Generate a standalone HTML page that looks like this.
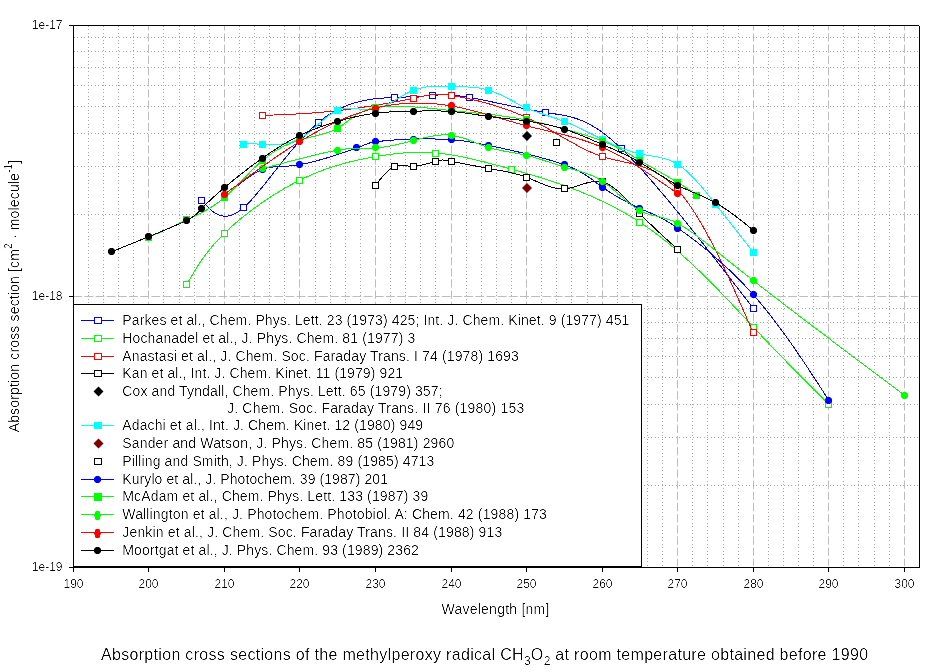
<!DOCTYPE html>
<html><head><meta charset="utf-8"><title>CH3O2 absorption cross sections</title>
<style>html,body{margin:0;padding:0;background:#fff;}body{width:944px;height:672px;overflow:hidden;}svg{display:block;}</style>
</head><body><svg width="944" height="672" viewBox="0 0 944 672" font-family="'Liberation Sans', Arial, sans-serif" fill="#000"><defs><filter id="crisp" x="0" y="0" width="1" height="1" color-interpolation-filters="sRGB"><feComponentTransfer><feFuncA type="table" tableValues="0 0 0.15 0.8 1"/></feComponentTransfer></filter></defs><g><line x1="88.5" y1="26" x2="88.5" y2="566" stroke="#a8a8a8" stroke-dasharray="1 2 1 3"/><line x1="103.5" y1="26" x2="103.5" y2="566" stroke="#a8a8a8" stroke-dasharray="1 2 1 3"/><line x1="118.5" y1="26" x2="118.5" y2="566" stroke="#a8a8a8" stroke-dasharray="1 2 1 3"/><line x1="133.5" y1="26" x2="133.5" y2="566" stroke="#a8a8a8" stroke-dasharray="1 2 1 3"/><line x1="148.5" y1="26" x2="148.5" y2="566" stroke="#bdbdbd" stroke-dasharray="8.3 2.88" stroke-dashoffset="3.8"/><line x1="163.5" y1="26" x2="163.5" y2="566" stroke="#a8a8a8" stroke-dasharray="1 2 1 3"/><line x1="179.5" y1="26" x2="179.5" y2="566" stroke="#a8a8a8" stroke-dasharray="1 2 1 3"/><line x1="194.5" y1="26" x2="194.5" y2="566" stroke="#a8a8a8" stroke-dasharray="1 2 1 3"/><line x1="209.5" y1="26" x2="209.5" y2="566" stroke="#a8a8a8" stroke-dasharray="1 2 1 3"/><line x1="224.5" y1="26" x2="224.5" y2="566" stroke="#bdbdbd" stroke-dasharray="8.3 2.88" stroke-dashoffset="3.8"/><line x1="239.5" y1="26" x2="239.5" y2="566" stroke="#a8a8a8" stroke-dasharray="1 2 1 3"/><line x1="254.5" y1="26" x2="254.5" y2="566" stroke="#a8a8a8" stroke-dasharray="1 2 1 3"/><line x1="269.5" y1="26" x2="269.5" y2="566" stroke="#a8a8a8" stroke-dasharray="1 2 1 3"/><line x1="284.5" y1="26" x2="284.5" y2="566" stroke="#a8a8a8" stroke-dasharray="1 2 1 3"/><line x1="299.5" y1="26" x2="299.5" y2="566" stroke="#bdbdbd" stroke-dasharray="8.3 2.88" stroke-dashoffset="3.8"/><line x1="315.5" y1="26" x2="315.5" y2="566" stroke="#a8a8a8" stroke-dasharray="1 2 1 3"/><line x1="330.5" y1="26" x2="330.5" y2="566" stroke="#a8a8a8" stroke-dasharray="1 2 1 3"/><line x1="345.5" y1="26" x2="345.5" y2="566" stroke="#a8a8a8" stroke-dasharray="1 2 1 3"/><line x1="360.5" y1="26" x2="360.5" y2="566" stroke="#a8a8a8" stroke-dasharray="1 2 1 3"/><line x1="375.5" y1="26" x2="375.5" y2="566" stroke="#bdbdbd" stroke-dasharray="8.3 2.88" stroke-dashoffset="3.8"/><line x1="390.5" y1="26" x2="390.5" y2="566" stroke="#a8a8a8" stroke-dasharray="1 2 1 3"/><line x1="405.5" y1="26" x2="405.5" y2="566" stroke="#a8a8a8" stroke-dasharray="1 2 1 3"/><line x1="420.5" y1="26" x2="420.5" y2="566" stroke="#a8a8a8" stroke-dasharray="1 2 1 3"/><line x1="435.5" y1="26" x2="435.5" y2="566" stroke="#a8a8a8" stroke-dasharray="1 2 1 3"/><line x1="451.5" y1="26" x2="451.5" y2="566" stroke="#bdbdbd" stroke-dasharray="8.3 2.88" stroke-dashoffset="3.8"/><line x1="466.5" y1="26" x2="466.5" y2="566" stroke="#a8a8a8" stroke-dasharray="1 2 1 3"/><line x1="481.5" y1="26" x2="481.5" y2="566" stroke="#a8a8a8" stroke-dasharray="1 2 1 3"/><line x1="496.5" y1="26" x2="496.5" y2="566" stroke="#a8a8a8" stroke-dasharray="1 2 1 3"/><line x1="511.5" y1="26" x2="511.5" y2="566" stroke="#a8a8a8" stroke-dasharray="1 2 1 3"/><line x1="526.5" y1="26" x2="526.5" y2="566" stroke="#bdbdbd" stroke-dasharray="8.3 2.88" stroke-dashoffset="3.8"/><line x1="541.5" y1="26" x2="541.5" y2="566" stroke="#a8a8a8" stroke-dasharray="1 2 1 3"/><line x1="556.5" y1="26" x2="556.5" y2="566" stroke="#a8a8a8" stroke-dasharray="1 2 1 3"/><line x1="571.5" y1="26" x2="571.5" y2="566" stroke="#a8a8a8" stroke-dasharray="1 2 1 3"/><line x1="587.5" y1="26" x2="587.5" y2="566" stroke="#a8a8a8" stroke-dasharray="1 2 1 3"/><line x1="602.5" y1="26" x2="602.5" y2="566" stroke="#bdbdbd" stroke-dasharray="8.3 2.88" stroke-dashoffset="3.8"/><line x1="617.5" y1="26" x2="617.5" y2="566" stroke="#a8a8a8" stroke-dasharray="1 2 1 3"/><line x1="632.5" y1="26" x2="632.5" y2="566" stroke="#a8a8a8" stroke-dasharray="1 2 1 3"/><line x1="647.5" y1="26" x2="647.5" y2="566" stroke="#a8a8a8" stroke-dasharray="1 2 1 3"/><line x1="662.5" y1="26" x2="662.5" y2="566" stroke="#a8a8a8" stroke-dasharray="1 2 1 3"/><line x1="677.5" y1="26" x2="677.5" y2="566" stroke="#bdbdbd" stroke-dasharray="8.3 2.88" stroke-dashoffset="3.8"/><line x1="692.5" y1="26" x2="692.5" y2="566" stroke="#a8a8a8" stroke-dasharray="1 2 1 3"/><line x1="707.5" y1="26" x2="707.5" y2="566" stroke="#a8a8a8" stroke-dasharray="1 2 1 3"/><line x1="723.5" y1="26" x2="723.5" y2="566" stroke="#a8a8a8" stroke-dasharray="1 2 1 3"/><line x1="738.5" y1="26" x2="738.5" y2="566" stroke="#a8a8a8" stroke-dasharray="1 2 1 3"/><line x1="753.5" y1="26" x2="753.5" y2="566" stroke="#bdbdbd" stroke-dasharray="8.3 2.88" stroke-dashoffset="3.8"/><line x1="768.5" y1="26" x2="768.5" y2="566" stroke="#a8a8a8" stroke-dasharray="1 2 1 3"/><line x1="783.5" y1="26" x2="783.5" y2="566" stroke="#a8a8a8" stroke-dasharray="1 2 1 3"/><line x1="798.5" y1="26" x2="798.5" y2="566" stroke="#a8a8a8" stroke-dasharray="1 2 1 3"/><line x1="813.5" y1="26" x2="813.5" y2="566" stroke="#a8a8a8" stroke-dasharray="1 2 1 3"/><line x1="828.5" y1="26" x2="828.5" y2="566" stroke="#bdbdbd" stroke-dasharray="8.3 2.88" stroke-dashoffset="3.8"/><line x1="843.5" y1="26" x2="843.5" y2="566" stroke="#a8a8a8" stroke-dasharray="1 2 1 3"/><line x1="858.5" y1="26" x2="858.5" y2="566" stroke="#a8a8a8" stroke-dasharray="1 2 1 3"/><line x1="874.5" y1="26" x2="874.5" y2="566" stroke="#a8a8a8" stroke-dasharray="1 2 1 3"/><line x1="889.5" y1="26" x2="889.5" y2="566" stroke="#a8a8a8" stroke-dasharray="1 2 1 3"/><line x1="904.5" y1="26" x2="904.5" y2="566" stroke="#bdbdbd" stroke-dasharray="8.3 2.88" stroke-dashoffset="3.8"/><line x1="919.5" y1="26" x2="919.5" y2="566" stroke="#a8a8a8" stroke-dasharray="1 2 1 3"/><line x1="74" y1="485.5" x2="918" y2="485.5" stroke="#a8a8a8" stroke-dasharray="1 2 1 3"/><line x1="74" y1="437.5" x2="918" y2="437.5" stroke="#a8a8a8" stroke-dasharray="1 2 1 3"/><line x1="74" y1="404.5" x2="918" y2="404.5" stroke="#a8a8a8" stroke-dasharray="1 2 1 3"/><line x1="74" y1="377.5" x2="918" y2="377.5" stroke="#a8a8a8" stroke-dasharray="1 2 1 3"/><line x1="74" y1="356.5" x2="918" y2="356.5" stroke="#a8a8a8" stroke-dasharray="1 2 1 3"/><line x1="74" y1="338.5" x2="918" y2="338.5" stroke="#a8a8a8" stroke-dasharray="1 2 1 3"/><line x1="74" y1="322.5" x2="918" y2="322.5" stroke="#a8a8a8" stroke-dasharray="1 2 1 3"/><line x1="74" y1="308.5" x2="918" y2="308.5" stroke="#a8a8a8" stroke-dasharray="1 2 1 3"/><line x1="74" y1="296.5" x2="918" y2="296.5" stroke="#bdbdbd" stroke-dasharray="8.9 2.27" stroke-dashoffset="0.8"/><line x1="74" y1="214.5" x2="918" y2="214.5" stroke="#a8a8a8" stroke-dasharray="1 2 1 3"/><line x1="74" y1="166.5" x2="918" y2="166.5" stroke="#a8a8a8" stroke-dasharray="1 2 1 3"/><line x1="74" y1="133.5" x2="918" y2="133.5" stroke="#a8a8a8" stroke-dasharray="1 2 1 3"/><line x1="74" y1="106.5" x2="918" y2="106.5" stroke="#a8a8a8" stroke-dasharray="1 2 1 3"/><line x1="74" y1="85.5" x2="918" y2="85.5" stroke="#a8a8a8" stroke-dasharray="1 2 1 3"/><line x1="74" y1="67.5" x2="918" y2="67.5" stroke="#a8a8a8" stroke-dasharray="1 2 1 3"/><line x1="74" y1="51.5" x2="918" y2="51.5" stroke="#a8a8a8" stroke-dasharray="1 2 1 3"/><line x1="74" y1="37.5" x2="918" y2="37.5" stroke="#a8a8a8" stroke-dasharray="1 2 1 3"/></g><g><path d="M201.76 200.70 L202.94 201.99 L204.12 203.26 L205.31 204.53 L206.51 205.76 L207.72 206.97 L208.93 208.14 L210.17 209.26 L211.41 210.32 L212.68 211.33 L213.97 212.26 L215.28 213.11 L216.61 213.87 L217.97 214.55 L219.37 215.11 L220.79 215.57 L222.25 215.91 L223.75 216.13 L225.28 216.21 L226.86 216.14 L228.48 215.93 L230.15 215.56 L231.87 215.03 L233.63 214.32 L235.45 213.43 L237.33 212.35 L239.26 211.07 L241.25 209.59 L243.31 207.90 L244.08 207.22 L244.86 206.51 L245.65 205.78 L246.45 205.01 L247.26 204.22 L248.07 203.40 L248.90 202.56 L249.73 201.69 L250.57 200.79 L251.41 199.88 L252.27 198.94 L253.13 197.98 L254.00 196.99 L254.88 195.99 L255.76 194.96 L256.65 193.92 L257.55 192.85 L258.46 191.77 L259.37 190.68 L260.29 189.56 L261.21 188.43 L262.14 187.28 L263.08 186.12 L264.02 184.95 L264.97 183.76 L265.93 182.56 L266.89 181.35 L267.86 180.13 L268.83 178.89 L269.81 177.65 L270.80 176.40 L271.78 175.14 L272.78 173.87 L273.78 172.60 L274.78 171.32 L275.79 170.03 L276.81 168.74 L277.83 167.45 L278.85 166.15 L279.88 164.85 L280.91 163.54 L281.94 162.24 L282.98 160.94 L284.03 159.63 L285.08 158.33 L286.13 157.03 L287.18 155.73 L288.24 154.43 L289.30 153.14 L290.37 151.85 L291.44 150.57 L292.51 149.29 L293.58 148.02 L294.66 146.76 L295.74 145.50 L296.82 144.26 L297.91 143.02 L299.00 141.79 L300.09 140.57 L301.18 139.37 L302.27 138.17 L303.37 136.99 L304.47 135.83 L305.57 134.67 L306.67 133.53 L307.77 132.41 L308.87 131.31 L309.98 130.22 L311.08 129.15 L312.19 128.09 L313.30 127.06 L314.41 126.04 L315.52 125.05 L316.63 124.08 L317.74 123.13 L318.85 122.20 L320.48 120.89 L322.10 119.62 L323.72 118.40 L325.35 117.23 L326.97 116.11 L328.59 115.03 L330.21 113.99 L331.83 113.00 L333.44 112.05 L335.05 111.14 L336.66 110.27 L338.26 109.44 L339.86 108.65 L341.45 107.90 L343.04 107.18 L344.63 106.50 L346.20 105.85 L347.77 105.23 L349.34 104.65 L350.89 104.10 L352.44 103.58 L353.98 103.10 L355.51 102.64 L357.04 102.20 L358.55 101.80 L360.05 101.42 L361.55 101.06 L363.03 100.73 L364.50 100.42 L365.97 100.14 L367.41 99.87 L368.85 99.63 L370.28 99.40 L371.69 99.20 L373.09 99.01 L374.47 98.83 L375.84 98.67 L377.19 98.53 L378.53 98.40 L379.86 98.28 L381.17 98.18 L382.46 98.08 L383.74 98.00 L384.99 97.92 L386.23 97.85 L387.46 97.79 L388.66 97.73 L389.85 97.68 L391.02 97.63 L392.16 97.58 L393.29 97.54 L394.40 97.50 L396.63 97.41 L398.78 97.33 L400.85 97.24 L402.83 97.16 L404.74 97.07 L406.58 96.98 L408.35 96.90 L410.05 96.82 L411.69 96.73 L413.27 96.65 L414.79 96.56 L416.26 96.48 L417.68 96.40 L419.06 96.31 L420.39 96.23 L421.69 96.15 L422.95 96.06 L424.18 95.98 L425.38 95.90 L426.55 95.81 L427.70 95.73 L428.84 95.65 L429.96 95.57 L431.07 95.48 L432.17 95.40 L433.27 95.32 L434.36 95.24 L435.46 95.16 L436.57 95.08 L437.70 95.02 L438.84 94.96 L440.00 94.91 L441.19 94.87 L442.42 94.85 L443.68 94.84 L444.97 94.84 L446.32 94.86 L447.71 94.91 L449.16 94.97 L450.67 95.05 L452.24 95.16 L453.87 95.30 L455.58 95.46 L457.37 95.65 L459.24 95.87 L461.19 96.13 L463.23 96.42 L465.37 96.74 L467.60 97.10 L469.94 97.50 L471.13 97.71 L472.34 97.93 L473.57 98.16 L474.83 98.39 L476.11 98.64 L477.42 98.89 L478.74 99.15 L480.09 99.42 L481.45 99.70 L482.83 99.98 L484.23 100.26 L485.65 100.56 L487.08 100.85 L488.53 101.16 L490.00 101.46 L491.47 101.77 L492.96 102.09 L494.47 102.41 L495.98 102.73 L497.50 103.05 L499.04 103.38 L500.58 103.71 L502.13 104.04 L503.69 104.37 L505.25 104.71 L506.82 105.04 L508.40 105.37 L509.97 105.71 L511.55 106.04 L513.14 106.37 L514.72 106.70 L516.31 107.03 L517.90 107.36 L519.48 107.68 L521.06 108.01 L522.64 108.33 L524.22 108.64 L525.79 108.95 L527.36 109.26 L528.92 109.57 L530.48 109.86 L532.03 110.16 L533.57 110.44 L535.10 110.73 L536.62 111.00 L538.13 111.27 L539.63 111.53 L541.11 111.79 L542.58 112.03 L544.04 112.27 L545.49 112.50 L546.81 112.71 L548.12 112.90 L549.42 113.10 L550.71 113.29 L551.99 113.48 L553.26 113.66 L554.53 113.85 L555.78 114.04 L557.03 114.23 L558.27 114.42 L559.50 114.62 L560.73 114.83 L561.96 115.04 L563.19 115.27 L564.41 115.50 L565.63 115.75 L566.85 116.01 L568.07 116.28 L569.29 116.57 L570.52 116.87 L571.75 117.20 L572.98 117.54 L574.21 117.91 L575.46 118.29 L576.70 118.70 L577.96 119.14 L579.22 119.60 L580.49 120.09 L581.77 120.60 L583.06 121.15 L584.36 121.73 L585.67 122.34 L587.00 122.98 L588.34 123.66 L589.69 124.37 L591.06 125.13 L592.45 125.92 L593.85 126.75 L595.27 127.62 L596.71 128.54 L598.16 129.50 L599.64 130.51 L601.14 131.56 L602.66 132.66 L604.20 133.81 L605.76 135.01 L607.35 136.26 L608.97 137.57 L610.61 138.93 L612.27 140.34 L613.97 141.81 L615.69 143.34 L617.44 144.94 L619.22 146.59 L621.03 148.30 L621.76 149.00 L622.50 149.71 L623.24 150.43 L623.98 151.16 L624.73 151.90 L625.49 152.65 L626.25 153.41 L627.01 154.18 L627.78 154.96 L628.56 155.75 L629.34 156.54 L630.12 157.35 L630.91 158.17 L631.70 158.99 L632.50 159.83 L633.30 160.67 L634.10 161.52 L634.91 162.38 L635.73 163.25 L636.55 164.13 L637.37 165.02 L638.20 165.91 L639.03 166.82 L639.86 167.73 L640.70 168.65 L641.55 169.58 L642.39 170.51 L643.25 171.46 L644.10 172.41 L644.96 173.37 L645.83 174.34 L646.69 175.32 L647.56 176.30 L648.44 177.30 L649.32 178.30 L650.20 179.30 L651.09 180.32 L651.98 181.34 L652.87 182.37 L653.77 183.41 L654.67 184.45 L655.57 185.50 L656.48 186.56 L657.39 187.63 L658.31 188.70 L659.23 189.78 L660.15 190.86 L661.07 191.95 L662.00 193.05 L662.93 194.16 L663.86 195.27 L664.80 196.39 L665.74 197.51 L666.69 198.64 L667.63 199.78 L668.58 200.92 L669.54 202.07 L670.49 203.23 L671.45 204.39 L672.41 205.55 L673.38 206.72 L674.34 207.90 L675.31 209.08 L676.28 210.27 L677.26 211.47 L678.24 212.67 L679.22 213.87 L680.20 215.08 L681.19 216.30 L682.17 217.52 L683.16 218.74 L684.16 219.97 L685.15 221.20 L686.15 222.44 L687.15 223.69 L688.15 224.94 L689.16 226.19 L690.16 227.45 L691.17 228.71 L692.18 229.98 L693.20 231.25 L694.21 232.52 L695.23 233.80 L696.25 235.08 L697.27 236.37 L698.29 237.66 L699.32 238.95 L700.34 240.25 L701.37 241.55 L702.40 242.86 L703.43 244.17 L704.47 245.48 L705.50 246.80 L706.54 248.12 L707.58 249.44 L708.62 250.76 L709.66 252.09 L710.70 253.42 L711.75 254.76 L712.80 256.10 L713.84 257.44 L714.89 258.78 L715.94 260.12 L716.99 261.47 L718.05 262.82 L719.10 264.17 L720.15 265.53 L721.21 266.89 L722.27 268.25 L723.33 269.61 L724.38 270.97 L725.45 272.34 L726.51 273.71 L727.57 275.07 L728.63 276.45 L729.70 277.82 L730.76 279.19 L731.82 280.57 L732.89 281.95 L733.96 283.33 L735.02 284.71 L736.09 286.09 L737.16 287.47 L738.23 288.85 L739.30 290.24 L740.37 291.62 L741.44 293.01 L742.51 294.40 L743.58 295.79 L744.65 297.18 L745.73 298.56 L746.80 299.95 L747.87 301.34 L748.94 302.74 L750.02 304.13 L751.09 305.52 L752.16 306.91 L753.24 308.30" fill="none" stroke="#0000ff" stroke-width="1" shape-rendering="crispEdges"/><rect x="198.5" y="197.5" width="6" height="6" fill="#fff" stroke="#0000ff" stroke-width="1"/><rect x="240.5" y="204.5" width="6" height="6" fill="#fff" stroke="#0000ff" stroke-width="1"/><rect x="315.5" y="119.5" width="6" height="6" fill="#fff" stroke="#0000ff" stroke-width="1"/><rect x="391.5" y="94.5" width="6" height="6" fill="#fff" stroke="#0000ff" stroke-width="1"/><rect x="429.5" y="92.5" width="6" height="6" fill="#fff" stroke="#0000ff" stroke-width="1"/><rect x="466.5" y="94.5" width="6" height="6" fill="#fff" stroke="#0000ff" stroke-width="1"/><rect x="542.5" y="109.5" width="6" height="6" fill="#fff" stroke="#0000ff" stroke-width="1"/><rect x="618.5" y="145.5" width="6" height="6" fill="#fff" stroke="#0000ff" stroke-width="1"/><rect x="750.5" y="305.5" width="6" height="6" fill="#fff" stroke="#0000ff" stroke-width="1"/></g><g><path d="M186.65 284.70 L187.31 283.53 L187.98 282.36 L188.65 281.19 L189.32 280.02 L189.99 278.85 L190.67 277.68 L191.35 276.51 L192.04 275.33 L192.73 274.16 L193.43 272.98 L194.14 271.80 L194.86 270.62 L195.59 269.44 L196.33 268.25 L197.08 267.06 L197.84 265.87 L198.61 264.68 L199.40 263.48 L200.20 262.28 L201.02 261.07 L201.85 259.86 L202.70 258.65 L203.56 257.44 L204.45 256.22 L205.35 254.99 L206.28 253.76 L207.22 252.53 L208.19 251.29 L209.18 250.04 L210.19 248.79 L211.23 247.54 L212.29 246.27 L213.37 245.01 L214.48 243.73 L215.62 242.45 L216.79 241.17 L217.98 239.87 L219.21 238.57 L220.46 237.27 L221.75 235.95 L223.07 234.63 L224.42 233.30 L225.37 232.38 L226.33 231.46 L227.31 230.53 L228.31 229.60 L229.32 228.67 L230.34 227.73 L231.38 226.80 L232.43 225.86 L233.50 224.92 L234.58 223.98 L235.67 223.03 L236.77 222.09 L237.89 221.14 L239.02 220.20 L240.16 219.25 L241.31 218.31 L242.47 217.36 L243.64 216.42 L244.82 215.48 L246.02 214.54 L247.22 213.60 L248.43 212.66 L249.66 211.72 L250.89 210.79 L252.13 209.85 L253.37 208.92 L254.63 208.00 L255.89 207.07 L257.16 206.15 L258.44 205.24 L259.73 204.33 L261.02 203.42 L262.32 202.52 L263.62 201.62 L264.93 200.72 L266.24 199.84 L267.56 198.95 L268.89 198.08 L270.22 197.21 L271.55 196.34 L272.89 195.48 L274.23 194.63 L275.57 193.79 L276.92 192.95 L278.27 192.12 L279.62 191.30 L280.97 190.49 L282.33 189.68 L283.68 188.89 L285.04 188.10 L286.40 187.32 L287.76 186.55 L289.12 185.79 L290.48 185.05 L291.84 184.31 L293.19 183.58 L294.55 182.86 L295.91 182.15 L297.26 181.46 L298.61 180.77 L299.96 180.10 L301.55 179.33 L303.12 178.57 L304.70 177.83 L306.27 177.10 L307.83 176.39 L309.40 175.70 L310.95 175.02 L312.51 174.35 L314.06 173.70 L315.61 173.07 L317.15 172.44 L318.68 171.84 L320.22 171.24 L321.75 170.66 L323.27 170.10 L324.79 169.55 L326.30 169.01 L327.81 168.48 L329.31 167.96 L330.81 167.46 L332.31 166.97 L333.79 166.49 L335.28 166.03 L336.75 165.57 L338.23 165.13 L339.69 164.69 L341.15 164.27 L342.61 163.86 L344.06 163.46 L345.50 163.07 L346.93 162.69 L348.36 162.32 L349.79 161.95 L351.20 161.60 L352.61 161.26 L354.02 160.92 L355.42 160.60 L356.81 160.28 L358.19 159.97 L359.57 159.67 L360.94 159.38 L362.30 159.09 L363.65 158.81 L365.00 158.54 L366.34 158.28 L367.68 158.02 L369.00 157.77 L370.32 157.52 L371.63 157.28 L372.93 157.05 L374.22 156.82 L375.51 156.60 L377.17 156.32 L378.82 156.05 L380.45 155.78 L382.07 155.53 L383.68 155.28 L385.28 155.05 L386.86 154.82 L388.44 154.60 L390.00 154.39 L391.56 154.20 L393.11 154.01 L394.64 153.83 L396.17 153.66 L397.70 153.50 L399.21 153.35 L400.72 153.21 L402.22 153.07 L403.71 152.95 L405.20 152.84 L406.68 152.74 L408.16 152.65 L409.64 152.57 L411.11 152.50 L412.57 152.45 L414.04 152.40 L415.50 152.36 L416.96 152.33 L418.42 152.32 L419.87 152.31 L421.33 152.32 L422.78 152.34 L424.24 152.36 L425.70 152.40 L427.15 152.45 L428.61 152.52 L430.07 152.59 L431.54 152.68 L433.00 152.77 L434.47 152.88 L435.95 153.00 L437.10 153.10 L438.27 153.21 L439.43 153.33 L440.60 153.45 L441.78 153.59 L442.96 153.73 L444.14 153.87 L445.34 154.03 L446.54 154.19 L447.75 154.36 L448.97 154.54 L450.19 154.73 L451.43 154.93 L452.67 155.13 L453.93 155.34 L455.20 155.56 L456.48 155.79 L457.78 156.03 L459.08 156.28 L460.40 156.53 L461.74 156.80 L463.09 157.07 L464.46 157.35 L465.84 157.64 L467.24 157.94 L468.66 158.25 L470.09 158.57 L471.54 158.90 L473.02 159.23 L474.51 159.58 L476.02 159.94 L477.56 160.30 L479.11 160.68 L480.69 161.07 L482.29 161.46 L483.92 161.87 L485.56 162.28 L487.24 162.71 L488.93 163.14 L490.66 163.59 L492.41 164.05 L494.19 164.51 L495.99 164.99 L497.82 165.48 L499.68 165.98 L501.58 166.49 L503.50 167.01 L505.45 167.54 L507.43 168.08 L509.44 168.64 L511.49 169.20 L512.64 169.52 L513.80 169.84 L514.97 170.16 L516.14 170.49 L517.33 170.82 L518.53 171.16 L519.74 171.50 L520.95 171.84 L522.17 172.19 L523.41 172.54 L524.65 172.90 L525.90 173.26 L527.16 173.63 L528.42 174.00 L529.70 174.37 L530.98 174.75 L532.27 175.13 L533.57 175.52 L534.87 175.91 L536.18 176.31 L537.50 176.71 L538.83 177.12 L540.16 177.53 L541.50 177.94 L542.85 178.37 L544.20 178.79 L545.56 179.23 L546.92 179.67 L548.29 180.11 L549.67 180.56 L551.05 181.01 L552.44 181.47 L553.83 181.94 L555.23 182.41 L556.63 182.89 L558.04 183.38 L559.45 183.87 L560.87 184.36 L562.29 184.86 L563.72 185.37 L565.14 185.89 L566.58 186.41 L568.01 186.94 L569.46 187.47 L570.90 188.02 L572.35 188.56 L573.80 189.12 L575.25 189.68 L576.71 190.25 L578.17 190.82 L579.63 191.41 L581.09 192.00 L582.56 192.59 L584.03 193.20 L585.50 193.81 L586.97 194.43 L588.45 195.06 L589.92 195.69 L591.40 196.33 L592.88 196.98 L594.36 197.64 L595.84 198.31 L597.32 198.98 L598.80 199.66 L600.28 200.35 L601.76 201.05 L603.25 201.76 L604.73 202.47 L606.21 203.19 L607.69 203.92 L609.17 204.66 L610.66 205.41 L612.14 206.17 L613.62 206.93 L615.09 207.71 L616.57 208.49 L618.05 209.29 L619.52 210.09 L620.99 210.90 L622.46 211.72 L623.93 212.55 L625.40 213.39 L626.86 214.23 L628.33 215.09 L629.79 215.96 L631.24 216.83 L632.70 217.72 L634.15 218.62 L635.59 219.52 L637.04 220.44 L638.48 221.36 L639.92 222.30 L641.21 223.15 L642.50 224.01 L643.79 224.88 L645.07 225.76 L646.35 226.64 L647.63 227.54 L648.90 228.44 L650.18 229.34 L651.44 230.26 L652.71 231.18 L653.97 232.10 L655.23 233.04 L656.48 233.98 L657.74 234.93 L658.98 235.88 L660.23 236.84 L661.47 237.81 L662.71 238.78 L663.95 239.75 L665.18 240.74 L666.41 241.73 L667.63 242.72 L668.85 243.72 L670.07 244.72 L671.29 245.73 L672.50 246.74 L673.71 247.76 L674.91 248.78 L676.11 249.81 L677.31 250.84 L678.50 251.88 L679.69 252.92 L680.88 253.96 L682.06 255.01 L683.24 256.06 L684.42 257.11 L685.59 258.17 L686.76 259.23 L687.92 260.29 L689.09 261.35 L690.24 262.42 L691.40 263.49 L692.55 264.56 L693.69 265.64 L694.84 266.72 L695.98 267.80 L697.11 268.88 L698.24 269.96 L699.37 271.04 L700.49 272.13 L701.61 273.21 L702.73 274.30 L703.84 275.39 L704.95 276.48 L706.05 277.57 L707.15 278.66 L708.25 279.75 L709.34 280.84 L710.43 281.94 L711.51 283.03 L712.59 284.12 L713.67 285.21 L714.74 286.30 L715.81 287.39 L716.88 288.48 L717.94 289.57 L718.99 290.66 L720.04 291.74 L721.09 292.83 L722.13 293.91 L723.17 294.99 L724.21 296.07 L725.24 297.15 L726.27 298.23 L727.29 299.30 L728.31 300.37 L729.32 301.44 L730.33 302.51 L731.34 303.58 L732.34 304.64 L733.33 305.70 L734.33 306.75 L735.31 307.81 L736.30 308.85 L737.28 309.90 L738.25 310.94 L739.22 311.98 L740.19 313.01 L741.15 314.04 L742.11 315.07 L743.06 316.09 L744.01 317.11 L744.95 318.12 L745.89 319.13 L746.82 320.13 L747.75 321.13 L748.68 322.12 L749.60 323.11 L750.51 324.09 L751.43 325.07 L752.33 326.04 L753.24 327.00 L754.52 328.37 L755.80 329.74 L757.07 331.09 L758.33 332.43 L759.58 333.75 L760.82 335.07 L762.05 336.37 L763.28 337.66 L764.49 338.95 L765.70 340.22 L766.90 341.48 L768.09 342.72 L769.27 343.96 L770.45 345.19 L771.61 346.41 L772.77 347.62 L773.92 348.82 L775.07 350.01 L776.21 351.19 L777.34 352.36 L778.46 353.52 L779.58 354.68 L780.69 355.82 L781.79 356.96 L782.89 358.09 L783.98 359.21 L785.06 360.32 L786.14 361.42 L787.21 362.52 L788.28 363.61 L789.34 364.69 L790.40 365.77 L791.45 366.84 L792.49 367.90 L793.53 368.95 L794.57 370.00 L795.60 371.05 L796.62 372.08 L797.65 373.11 L798.66 374.14 L799.68 375.16 L800.68 376.17 L801.69 377.18 L802.69 378.19 L803.69 379.19 L804.68 380.18 L805.67 381.17 L806.66 382.16 L807.64 383.14 L808.63 384.12 L809.60 385.10 L810.58 386.07 L811.55 387.04 L812.52 388.00 L813.49 388.97 L814.46 389.93 L815.42 390.88 L816.38 391.84 L817.34 392.79 L818.30 393.74 L819.26 394.69 L820.22 395.63 L821.17 396.58 L822.12 397.52 L823.08 398.46 L824.03 399.40 L824.98 400.34 L825.93 401.28 L826.88 402.22 L827.83 403.16 L828.78 404.10" fill="none" stroke="#00ff00" stroke-width="1" shape-rendering="crispEdges"/><rect x="183.5" y="281.5" width="6" height="6" fill="#fff" stroke="#00ff00" stroke-width="1"/><rect x="221.5" y="230.5" width="6" height="6" fill="#fff" stroke="#00ff00" stroke-width="1"/><rect x="296.5" y="177.5" width="6" height="6" fill="#fff" stroke="#00ff00" stroke-width="1"/><rect x="372.5" y="153.5" width="6" height="6" fill="#fff" stroke="#00ff00" stroke-width="1"/><rect x="432.5" y="150.5" width="6" height="6" fill="#fff" stroke="#00ff00" stroke-width="1"/><rect x="508.5" y="166.5" width="6" height="6" fill="#fff" stroke="#00ff00" stroke-width="1"/><rect x="636.5" y="219.5" width="6" height="6" fill="#fff" stroke="#00ff00" stroke-width="1"/><rect x="750.5" y="324.5" width="6" height="6" fill="#fff" stroke="#00ff00" stroke-width="1"/><rect x="825.5" y="401.5" width="6" height="6" fill="#fff" stroke="#00ff00" stroke-width="1"/></g><g><path d="M262.19 115.40 L263.63 115.35 L265.08 115.30 L266.52 115.25 L267.96 115.20 L269.41 115.15 L270.85 115.10 L272.30 115.05 L273.74 115.00 L275.19 114.94 L276.64 114.89 L278.09 114.83 L279.55 114.78 L281.00 114.72 L282.46 114.66 L283.92 114.60 L285.38 114.53 L286.84 114.47 L288.31 114.40 L289.78 114.33 L291.26 114.26 L292.73 114.19 L294.21 114.12 L295.70 114.04 L297.18 113.96 L298.68 113.87 L300.17 113.79 L301.67 113.70 L303.18 113.61 L304.69 113.51 L306.20 113.42 L307.72 113.31 L309.24 113.21 L310.77 113.10 L312.31 112.99 L313.85 112.87 L315.39 112.75 L316.94 112.63 L318.50 112.50 L320.07 112.37 L321.64 112.23 L323.22 112.09 L324.80 111.94 L326.39 111.79 L327.99 111.64 L329.60 111.48 L331.21 111.31 L332.83 111.14 L334.46 110.97 L336.09 110.79 L337.74 110.60 L339.36 110.41 L340.98 110.22 L342.62 110.02 L344.26 109.82 L345.90 109.61 L347.55 109.40 L349.20 109.18 L350.85 108.96 L352.51 108.73 L354.17 108.51 L355.82 108.27 L357.48 108.04 L359.13 107.80 L360.78 107.56 L362.43 107.32 L364.08 107.07 L365.72 106.82 L367.36 106.57 L368.99 106.32 L370.61 106.06 L372.22 105.81 L373.83 105.55 L375.43 105.29 L377.02 105.03 L378.59 104.77 L380.16 104.51 L381.71 104.25 L383.25 103.98 L384.78 103.72 L386.29 103.46 L387.79 103.20 L389.27 102.93 L390.73 102.67 L392.18 102.41 L393.60 102.15 L395.01 101.90 L396.40 101.64 L397.77 101.38 L399.11 101.13 L400.43 100.88 L401.73 100.63 L403.01 100.38 L404.26 100.14 L405.48 99.90 L406.68 99.66 L407.86 99.42 L409.00 99.19 L410.12 98.96 L411.20 98.74 L412.26 98.52 L413.28 98.30 L415.28 97.87 L417.15 97.46 L418.91 97.07 L420.58 96.70 L422.15 96.35 L423.64 96.02 L425.07 95.72 L426.43 95.44 L427.75 95.18 L429.03 94.96 L430.29 94.76 L431.53 94.58 L432.77 94.44 L434.01 94.33 L435.27 94.25 L436.55 94.20 L437.87 94.19 L439.24 94.21 L440.67 94.27 L442.17 94.36 L443.74 94.49 L445.41 94.66 L447.18 94.86 L449.05 95.11 L451.06 95.40 L452.06 95.55 L453.10 95.72 L454.17 95.89 L455.26 96.07 L456.39 96.27 L457.54 96.47 L458.71 96.69 L459.91 96.91 L461.14 97.14 L462.39 97.39 L463.66 97.64 L464.96 97.91 L466.28 98.18 L467.62 98.47 L468.97 98.77 L470.35 99.07 L471.75 99.39 L473.16 99.72 L474.60 100.06 L476.04 100.41 L477.51 100.77 L478.99 101.14 L480.48 101.52 L481.99 101.91 L483.51 102.32 L485.04 102.73 L486.58 103.16 L488.13 103.60 L489.69 104.05 L491.27 104.51 L492.85 104.98 L494.43 105.46 L496.03 105.96 L497.63 106.46 L499.23 106.98 L500.84 107.51 L502.46 108.05 L504.07 108.60 L505.69 109.17 L507.31 109.74 L508.93 110.33 L510.55 110.93 L512.17 111.54 L513.79 112.17 L515.41 112.80 L517.02 113.45 L518.63 114.11 L520.24 114.79 L521.84 115.47 L523.43 116.17 L525.02 116.88 L526.60 117.60 L528.06 118.28 L529.51 118.97 L530.96 119.67 L532.40 120.39 L533.83 121.10 L535.26 121.83 L536.68 122.57 L538.10 123.31 L539.50 124.06 L540.91 124.81 L542.31 125.57 L543.70 126.34 L545.09 127.10 L546.47 127.88 L547.85 128.65 L549.22 129.43 L550.59 130.21 L551.95 130.99 L553.31 131.77 L554.67 132.56 L556.02 133.34 L557.37 134.12 L558.71 134.91 L560.05 135.69 L561.39 136.46 L562.73 137.24 L564.06 138.01 L565.39 138.78 L566.72 139.54 L568.04 140.30 L569.36 141.05 L570.68 141.80 L572.00 142.54 L573.32 143.27 L574.63 144.00 L575.94 144.71 L577.26 145.42 L578.57 146.12 L579.88 146.81 L581.19 147.49 L582.49 148.16 L583.80 148.81 L585.11 149.46 L586.42 150.09 L587.72 150.71 L589.03 151.31 L590.34 151.91 L591.65 152.48 L592.95 153.04 L594.26 153.59 L595.57 154.12 L596.89 154.63 L598.20 155.13 L599.51 155.60 L600.83 156.06 L602.15 156.50 L603.49 156.93 L604.83 157.34 L606.18 157.73 L607.53 158.10 L608.88 158.46 L610.23 158.81 L611.59 159.15 L612.94 159.47 L614.30 159.79 L615.66 160.10 L617.02 160.41 L618.38 160.71 L619.74 161.00 L621.11 161.30 L622.47 161.59 L623.84 161.89 L625.21 162.19 L626.58 162.49 L627.95 162.80 L629.32 163.12 L630.69 163.45 L632.07 163.78 L633.44 164.13 L634.82 164.49 L636.19 164.86 L637.57 165.25 L638.95 165.66 L640.33 166.09 L641.71 166.54 L643.09 167.00 L644.47 167.50 L645.85 168.01 L647.24 168.55 L648.62 169.12 L650.00 169.72 L651.38 170.35 L652.77 171.01 L654.15 171.71 L655.54 172.44 L656.92 173.20 L658.31 174.00 L659.69 174.85 L661.08 175.73 L662.46 176.65 L663.85 177.62 L665.23 178.63 L666.62 179.69 L668.00 180.80 L669.39 181.95 L670.77 183.16 L672.16 184.42 L673.54 185.73 L674.92 187.10 L676.31 188.52 L677.69 190.00 L678.40 190.78 L679.11 191.58 L679.82 192.40 L680.53 193.23 L681.24 194.08 L681.95 194.94 L682.66 195.81 L683.37 196.70 L684.08 197.61 L684.79 198.52 L685.50 199.46 L686.21 200.40 L686.92 201.36 L687.63 202.34 L688.34 203.33 L689.04 204.33 L689.75 205.34 L690.46 206.37 L691.17 207.41 L691.88 208.47 L692.59 209.54 L693.29 210.62 L694.00 211.71 L694.71 212.81 L695.42 213.93 L696.13 215.06 L696.83 216.20 L697.54 217.35 L698.25 218.51 L698.96 219.69 L699.66 220.87 L700.37 222.07 L701.08 223.28 L701.78 224.50 L702.49 225.73 L703.20 226.97 L703.91 228.22 L704.61 229.48 L705.32 230.75 L706.02 232.04 L706.73 233.33 L707.44 234.63 L708.14 235.94 L708.85 237.26 L709.56 238.59 L710.26 239.92 L710.97 241.27 L711.67 242.63 L712.38 243.99 L713.09 245.36 L713.79 246.75 L714.50 248.14 L715.20 249.53 L715.91 250.94 L716.61 252.35 L717.32 253.77 L718.02 255.20 L718.73 256.64 L719.43 258.08 L720.14 259.53 L720.84 260.98 L721.55 262.45 L722.25 263.92 L722.96 265.39 L723.66 266.88 L724.37 268.37 L725.07 269.86 L725.78 271.36 L726.48 272.87 L727.19 274.38 L727.89 275.90 L728.60 277.42 L729.30 278.95 L730.00 280.48 L730.71 282.02 L731.41 283.56 L732.12 285.11 L732.82 286.66 L733.53 288.21 L734.23 289.77 L734.93 291.34 L735.64 292.91 L736.34 294.48 L737.05 296.05 L737.75 297.63 L738.45 299.21 L739.16 300.79 L739.86 302.38 L740.57 303.97 L741.27 305.56 L741.97 307.16 L742.68 308.76 L743.38 310.36 L744.09 311.96 L744.79 313.56 L745.49 315.17 L746.20 316.77 L746.90 318.38 L747.61 319.99 L748.31 321.60 L749.01 323.22 L749.72 324.83 L750.42 326.44 L751.12 328.06 L751.83 329.67 L752.53 331.28 L753.24 332.90" fill="none" stroke="#ff0000" stroke-width="1" shape-rendering="crispEdges"/><rect x="259.5" y="112.5" width="6" height="6" fill="#fff" stroke="#ff0000" stroke-width="1"/><rect x="334.5" y="107.5" width="6" height="6" fill="#fff" stroke="#ff0000" stroke-width="1"/><rect x="410.5" y="95.5" width="6" height="6" fill="#fff" stroke="#ff0000" stroke-width="1"/><rect x="448.5" y="92.5" width="6" height="6" fill="#fff" stroke="#ff0000" stroke-width="1"/><rect x="523.5" y="114.5" width="6" height="6" fill="#fff" stroke="#ff0000" stroke-width="1"/><rect x="599.5" y="153.5" width="6" height="6" fill="#fff" stroke="#ff0000" stroke-width="1"/><rect x="674.5" y="186.5" width="6" height="6" fill="#fff" stroke="#ff0000" stroke-width="1"/><rect x="750.5" y="329.5" width="6" height="6" fill="#fff" stroke="#ff0000" stroke-width="1"/></g><g><path d="M375.51 185.30 L376.65 183.86 L377.79 182.42 L378.93 181.00 L380.07 179.60 L381.21 178.23 L382.34 176.89 L383.47 175.59 L384.59 174.34 L385.71 173.14 L386.82 172.00 L387.93 170.93 L389.03 169.93 L390.12 169.02 L391.20 168.19 L392.28 167.46 L393.34 166.82 L394.40 166.30 L395.87 165.75 L397.33 165.39 L398.79 165.21 L400.26 165.16 L401.74 165.23 L403.24 165.38 L404.78 165.58 L406.35 165.80 L407.99 166.01 L409.68 166.19 L411.44 166.29 L413.28 166.30 L414.82 166.22 L416.40 166.07 L418.01 165.85 L419.65 165.57 L421.30 165.25 L422.95 164.89 L424.59 164.49 L426.20 164.07 L427.79 163.64 L429.32 163.20 L430.81 162.76 L432.22 162.34 L433.56 161.93 L434.80 161.55 L435.95 161.20 L437.47 160.76 L438.80 160.42 L440.02 160.18 L441.19 160.03 L442.38 159.98 L443.66 160.03 L445.10 160.18 L446.77 160.42 L448.73 160.76 L451.06 161.20 L452.10 161.40 L453.21 161.62 L454.39 161.85 L455.62 162.09 L456.91 162.34 L458.24 162.61 L459.63 162.88 L461.06 163.17 L462.54 163.46 L464.05 163.76 L465.59 164.07 L467.17 164.38 L468.77 164.69 L470.39 165.01 L472.04 165.33 L473.70 165.66 L475.38 165.98 L477.06 166.31 L478.75 166.63 L480.45 166.95 L482.14 167.27 L483.83 167.59 L485.51 167.90 L487.17 168.20 L488.83 168.50 L490.46 168.79 L492.08 169.08 L493.68 169.36 L495.27 169.64 L496.84 169.91 L498.40 170.19 L499.94 170.47 L501.47 170.75 L502.99 171.03 L504.50 171.32 L506.01 171.62 L507.50 171.92 L508.99 172.24 L510.47 172.56 L511.94 172.90 L513.41 173.26 L514.88 173.62 L516.34 174.01 L517.81 174.41 L519.27 174.84 L520.73 175.28 L522.19 175.75 L523.66 176.24 L525.13 176.76 L526.60 177.30 L528.02 177.85 L529.45 178.42 L530.87 179.01 L532.31 179.61 L533.74 180.23 L535.18 180.85 L536.63 181.48 L538.07 182.10 L539.52 182.72 L540.98 183.33 L542.43 183.93 L543.89 184.51 L545.34 185.07 L546.80 185.61 L548.27 186.12 L549.73 186.60 L551.19 187.05 L552.66 187.45 L554.12 187.81 L555.59 188.12 L557.05 188.39 L558.52 188.59 L559.98 188.74 L561.45 188.83 L562.91 188.85 L564.37 188.80 L565.89 188.67 L567.41 188.47 L568.93 188.20 L570.44 187.88 L571.96 187.51 L573.47 187.10 L574.99 186.66 L576.50 186.19 L578.01 185.70 L579.52 185.20 L581.03 184.71 L582.54 184.21 L584.05 183.74 L585.56 183.28 L587.07 182.86 L588.58 182.47 L590.08 182.13 L591.59 181.84 L593.10 181.62 L594.61 181.46 L596.11 181.38 L597.62 181.39 L599.13 181.49 L600.64 181.69 L602.15 182.00 L603.32 182.32 L604.50 182.71 L605.68 183.17 L606.86 183.69 L608.04 184.27 L609.22 184.91 L610.40 185.60 L611.58 186.35 L612.76 187.15 L613.94 187.99 L615.12 188.88 L616.30 189.82 L617.48 190.79 L618.66 191.80 L619.84 192.85 L621.02 193.93 L622.20 195.04 L623.38 196.17 L624.56 197.34 L625.74 198.52 L626.93 199.72 L628.11 200.94 L629.29 202.17 L630.47 203.42 L631.65 204.68 L632.83 205.94 L634.01 207.20 L635.19 208.47 L636.37 209.74 L637.56 211.00 L638.74 212.25 L639.92 213.50 L641.03 214.66 L642.14 215.82 L643.25 216.96 L644.36 218.10 L645.47 219.22 L646.59 220.34 L647.70 221.45 L648.81 222.55 L649.92 223.64 L651.03 224.72 L652.14 225.80 L653.25 226.87 L654.36 227.94 L655.47 229.00 L656.59 230.05 L657.70 231.10 L658.81 232.14 L659.92 233.17 L661.03 234.20 L662.14 235.23 L663.25 236.25 L664.36 237.27 L665.47 238.29 L666.58 239.30 L667.69 240.31 L668.80 241.31 L669.92 242.32 L671.03 243.32 L672.14 244.32 L673.25 245.32 L674.36 246.31 L675.47 247.31 L676.58 248.30 L677.69 249.30" fill="none" stroke="#000000" stroke-width="1" shape-rendering="crispEdges"/><rect x="372.5" y="182.5" width="6" height="6" fill="#fff" stroke="#000000" stroke-width="1"/><rect x="391.5" y="163.5" width="6" height="6" fill="#fff" stroke="#000000" stroke-width="1"/><rect x="410.5" y="163.5" width="6" height="6" fill="#fff" stroke="#000000" stroke-width="1"/><rect x="432.5" y="158.5" width="6" height="6" fill="#fff" stroke="#000000" stroke-width="1"/><rect x="448.5" y="158.5" width="6" height="6" fill="#fff" stroke="#000000" stroke-width="1"/><rect x="485.5" y="165.5" width="6" height="6" fill="#fff" stroke="#000000" stroke-width="1"/><rect x="523.5" y="174.5" width="6" height="6" fill="#fff" stroke="#000000" stroke-width="1"/><rect x="561.5" y="185.5" width="6" height="6" fill="#fff" stroke="#000000" stroke-width="1"/><rect x="599.5" y="178.5" width="6" height="6" fill="#fff" stroke="#000000" stroke-width="1"/><rect x="636.5" y="210.5" width="6" height="6" fill="#fff" stroke="#000000" stroke-width="1"/><rect x="674.5" y="246.5" width="6" height="6" fill="#fff" stroke="#000000" stroke-width="1"/></g><g><path d="M527 131L532 136L527 141L522 136Z" fill="#000000"/></g><g><path d="M243.31 144.20 L244.46 144.14 L245.63 144.08 L246.84 144.03 L248.10 143.99 L249.43 143.95 L250.85 143.93 L252.38 143.92 L254.02 143.94 L255.81 143.97 L257.76 144.02 L259.88 144.10 L262.19 144.20 L263.38 144.26 L264.61 144.32 L265.88 144.39 L267.20 144.45 L268.55 144.50 L269.94 144.54 L271.36 144.56 L272.82 144.57 L274.30 144.56 L275.81 144.52 L277.35 144.45 L278.90 144.35 L280.48 144.22 L282.07 144.04 L283.68 143.83 L285.29 143.56 L286.92 143.25 L288.55 142.88 L290.19 142.45 L291.83 141.97 L293.47 141.42 L295.10 140.80 L296.73 140.11 L298.35 139.34 L299.96 138.50 L301.26 137.76 L302.54 136.97 L303.81 136.14 L305.08 135.26 L306.34 134.35 L307.59 133.40 L308.84 132.43 L310.08 131.42 L311.31 130.40 L312.54 129.36 L313.77 128.30 L314.99 127.23 L316.20 126.16 L317.41 125.08 L318.62 124.01 L319.83 122.94 L321.03 121.89 L322.23 120.84 L323.42 119.82 L324.62 118.81 L325.81 117.83 L327.00 116.88 L328.20 115.96 L329.39 115.08 L330.58 114.24 L331.77 113.45 L332.96 112.71 L334.15 112.02 L335.35 111.38 L336.54 110.81 L337.74 110.30 L339.22 109.76 L340.72 109.32 L342.21 108.98 L343.71 108.71 L345.21 108.52 L346.71 108.40 L348.21 108.34 L349.72 108.33 L351.23 108.37 L352.74 108.45 L354.25 108.55 L355.77 108.68 L357.28 108.83 L358.80 108.98 L360.32 109.13 L361.83 109.28 L363.35 109.40 L364.87 109.51 L366.39 109.59 L367.91 109.63 L369.43 109.62 L370.95 109.57 L372.47 109.45 L373.99 109.26 L375.51 109.00 L376.86 108.70 L378.22 108.33 L379.57 107.91 L380.92 107.44 L382.28 106.91 L383.63 106.34 L384.98 105.73 L386.33 105.08 L387.68 104.39 L389.03 103.68 L390.38 102.94 L391.73 102.17 L393.07 101.39 L394.42 100.60 L395.77 99.80 L397.12 98.99 L398.47 98.18 L399.81 97.37 L401.16 96.57 L402.51 95.77 L403.85 95.00 L405.20 94.24 L406.55 93.50 L407.89 92.79 L409.24 92.11 L410.59 91.47 L411.94 90.86 L413.28 90.30 L414.79 89.72 L416.30 89.20 L417.81 88.74 L419.32 88.32 L420.83 87.95 L422.34 87.63 L423.85 87.35 L425.36 87.11 L426.87 86.90 L428.38 86.73 L429.89 86.60 L431.41 86.49 L432.92 86.41 L434.43 86.36 L435.94 86.32 L437.45 86.31 L438.96 86.31 L440.47 86.33 L441.99 86.35 L443.50 86.39 L445.01 86.43 L446.52 86.47 L448.03 86.52 L449.54 86.56 L451.06 86.60 L452.57 86.63 L454.08 86.66 L455.59 86.68 L457.10 86.70 L458.61 86.73 L460.12 86.75 L461.63 86.78 L463.14 86.81 L464.66 86.86 L466.17 86.91 L467.68 86.98 L469.19 87.06 L470.70 87.16 L472.21 87.27 L473.72 87.41 L475.23 87.57 L476.74 87.75 L478.25 87.95 L479.76 88.19 L481.27 88.46 L482.78 88.75 L484.30 89.08 L485.81 89.45 L487.32 89.86 L488.83 90.30 L490.23 90.75 L491.63 91.23 L493.02 91.74 L494.42 92.29 L495.82 92.85 L497.22 93.45 L498.62 94.07 L500.02 94.71 L501.42 95.36 L502.82 96.04 L504.22 96.73 L505.61 97.43 L507.01 98.14 L508.41 98.86 L509.81 99.59 L511.21 100.31 L512.61 101.05 L514.01 101.78 L515.41 102.51 L516.81 103.23 L518.21 103.95 L519.60 104.66 L521.00 105.36 L522.40 106.04 L523.80 106.71 L525.20 107.37 L526.60 108.00 L528.05 108.64 L529.51 109.25 L530.96 109.85 L532.41 110.42 L533.86 110.98 L535.32 111.52 L536.77 112.05 L538.22 112.57 L539.68 113.08 L541.13 113.57 L542.58 114.06 L544.03 114.55 L545.49 115.02 L546.94 115.50 L548.39 115.97 L549.84 116.44 L551.30 116.92 L552.75 117.40 L554.20 117.88 L555.66 118.37 L557.11 118.86 L558.56 119.36 L560.01 119.88 L561.47 120.40 L562.92 120.94 L564.37 121.50 L565.77 122.05 L567.17 122.61 L568.57 123.19 L569.97 123.78 L571.37 124.39 L572.77 125.00 L574.17 125.63 L575.56 126.27 L576.96 126.91 L578.36 127.57 L579.76 128.23 L581.16 128.90 L582.56 129.58 L583.96 130.26 L585.36 130.95 L586.76 131.64 L588.16 132.33 L589.55 133.03 L590.95 133.73 L592.35 134.43 L593.75 135.13 L595.15 135.83 L596.55 136.53 L597.95 137.23 L599.35 137.92 L600.75 138.61 L602.15 139.30 L603.60 140.01 L605.05 140.71 L606.50 141.41 L607.96 142.10 L609.41 142.78 L610.86 143.45 L612.31 144.11 L613.77 144.76 L615.22 145.40 L616.67 146.02 L618.13 146.64 L619.58 147.24 L621.03 147.83 L622.48 148.40 L623.94 148.95 L625.39 149.49 L626.84 150.01 L628.30 150.52 L629.75 151.00 L631.20 151.47 L632.65 151.91 L634.11 152.33 L635.56 152.74 L637.01 153.11 L638.46 153.47 L639.92 153.80 L641.37 154.11 L642.82 154.39 L644.28 154.66 L645.73 154.91 L647.18 155.16 L648.63 155.39 L650.09 155.63 L651.54 155.86 L652.99 156.10 L654.45 156.35 L655.90 156.61 L657.35 156.88 L658.80 157.17 L660.26 157.49 L661.71 157.83 L663.16 158.21 L664.61 158.61 L666.07 159.06 L667.52 159.54 L668.97 160.07 L670.43 160.65 L671.88 161.28 L673.33 161.97 L674.78 162.71 L676.24 163.52 L677.69 164.40 L678.74 165.08 L679.79 165.79 L680.84 166.53 L681.89 167.32 L682.94 168.13 L683.99 168.97 L685.03 169.85 L686.08 170.76 L687.13 171.69 L688.18 172.65 L689.23 173.64 L690.28 174.66 L691.33 175.69 L692.38 176.76 L693.43 177.84 L694.48 178.95 L695.53 180.08 L696.58 181.23 L697.63 182.39 L698.67 183.58 L699.72 184.78 L700.77 185.99 L701.82 187.22 L702.87 188.47 L703.92 189.73 L704.97 191.00 L706.02 192.27 L707.07 193.56 L708.12 194.86 L709.17 196.17 L710.22 197.48 L711.27 198.80 L712.31 200.12 L713.36 201.44 L714.41 202.77 L715.46 204.10 L716.41 205.30 L717.35 206.49 L718.30 207.69 L719.24 208.89 L720.18 210.09 L721.13 211.29 L722.07 212.49 L723.02 213.69 L723.96 214.89 L724.91 216.09 L725.85 217.29 L726.79 218.49 L727.74 219.69 L728.68 220.89 L729.63 222.09 L730.57 223.30 L731.52 224.50 L732.46 225.70 L733.40 226.90 L734.35 228.11 L735.29 229.31 L736.24 230.51 L737.18 231.72 L738.13 232.92 L739.07 234.13 L740.01 235.33 L740.96 236.53 L741.90 237.74 L742.85 238.94 L743.79 240.15 L744.74 241.35 L745.68 242.56 L746.62 243.76 L747.57 244.97 L748.51 246.17 L749.46 247.38 L750.40 248.58 L751.35 249.79 L752.29 250.99 L753.24 252.20" fill="none" stroke="#00ffff" stroke-width="1" shape-rendering="crispEdges"/><rect x="240" y="141" width="7" height="7" fill="#00ffff"/><rect x="259" y="141" width="7" height="7" fill="#00ffff"/><rect x="296" y="135" width="7" height="7" fill="#00ffff"/><rect x="334" y="107" width="7" height="7" fill="#00ffff"/><rect x="372" y="106" width="7" height="7" fill="#00ffff"/><rect x="410" y="87" width="7" height="7" fill="#00ffff"/><rect x="448" y="83" width="7" height="7" fill="#00ffff"/><rect x="485" y="87" width="7" height="7" fill="#00ffff"/><rect x="523" y="104" width="7" height="7" fill="#00ffff"/><rect x="561" y="118" width="7" height="7" fill="#00ffff"/><rect x="599" y="136" width="7" height="7" fill="#00ffff"/><rect x="636" y="150" width="7" height="7" fill="#00ffff"/><rect x="674" y="161" width="7" height="7" fill="#00ffff"/><rect x="712" y="201" width="7" height="7" fill="#00ffff"/><rect x="750" y="249" width="7" height="7" fill="#00ffff"/></g><g><path d="M527 183L532 188L527 193L522 188Z" fill="#800000"/></g><g><rect x="553.5" y="139.5" width="6" height="6" fill="#fff" stroke="#000000" stroke-width="1"/></g><g><path d="M224.42 197.00 L225.71 195.88 L227.00 194.77 L228.28 193.66 L229.57 192.55 L230.85 191.45 L232.14 190.36 L233.42 189.27 L234.69 188.20 L235.96 187.13 L237.23 186.08 L238.50 185.05 L239.76 184.02 L241.01 183.02 L242.26 182.03 L243.50 181.07 L244.74 180.12 L245.97 179.20 L247.19 178.31 L248.40 177.43 L249.61 176.59 L250.81 175.77 L251.99 174.99 L253.17 174.23 L254.34 173.51 L255.50 172.83 L256.64 172.17 L257.78 171.56 L258.90 170.98 L260.01 170.45 L261.11 169.95 L262.19 169.50 L263.52 169.00 L264.83 168.56 L266.13 168.18 L267.42 167.86 L268.70 167.58 L269.99 167.35 L271.28 167.15 L272.58 166.99 L273.89 166.86 L275.21 166.75 L276.56 166.65 L277.93 166.58 L279.34 166.51 L280.77 166.45 L282.25 166.38 L283.76 166.31 L285.32 166.23 L286.93 166.13 L288.60 166.01 L290.32 165.87 L292.11 165.70 L293.96 165.49 L295.89 165.24 L297.89 164.94 L299.96 164.60 L301.34 164.35 L302.75 164.08 L304.19 163.79 L305.65 163.48 L307.14 163.15 L308.65 162.80 L310.19 162.44 L311.74 162.06 L313.31 161.66 L314.89 161.26 L316.49 160.84 L318.09 160.40 L319.70 159.96 L321.32 159.51 L322.93 159.05 L324.55 158.58 L326.17 158.11 L327.78 157.63 L329.39 157.14 L330.98 156.65 L332.57 156.16 L334.14 155.67 L335.70 155.17 L337.23 154.68 L338.75 154.19 L340.25 153.70 L341.72 153.21 L343.16 152.73 L344.58 152.25 L345.96 151.78 L347.31 151.32 L348.63 150.86 L349.90 150.42 L351.14 149.98 L352.33 149.56 L353.48 149.15 L354.58 148.75 L355.63 148.37 L356.62 148.00 L359.30 146.99 L361.56 146.12 L363.44 145.36 L365.02 144.72 L366.36 144.17 L367.51 143.71 L368.54 143.32 L369.50 142.99 L370.46 142.71 L371.49 142.46 L372.63 142.24 L373.95 142.02 L375.51 141.80 L376.44 141.68 L377.44 141.56 L378.52 141.43 L379.66 141.31 L380.88 141.18 L382.15 141.04 L383.49 140.91 L384.88 140.78 L386.32 140.65 L387.81 140.52 L389.34 140.39 L390.92 140.26 L392.53 140.13 L394.17 140.01 L395.84 139.89 L397.53 139.77 L399.25 139.66 L400.98 139.56 L402.73 139.46 L404.49 139.36 L406.25 139.27 L408.01 139.19 L409.78 139.12 L411.53 139.06 L413.28 139.00 L415.02 138.95 L416.74 138.92 L418.45 138.89 L420.14 138.87 L421.82 138.86 L423.48 138.85 L425.12 138.85 L426.75 138.86 L428.36 138.88 L429.95 138.90 L431.52 138.93 L433.07 138.97 L434.60 139.01 L436.10 139.05 L437.59 139.11 L439.05 139.16 L440.49 139.22 L441.90 139.28 L443.29 139.35 L444.65 139.42 L445.99 139.49 L447.30 139.56 L448.58 139.64 L449.83 139.72 L451.06 139.80 L452.25 139.88 L453.42 139.97 L454.58 140.05 L455.72 140.15 L456.87 140.24 L458.01 140.35 L459.16 140.47 L460.33 140.59 L461.52 140.73 L462.74 140.88 L464.00 141.04 L465.29 141.22 L466.64 141.41 L468.03 141.63 L469.49 141.86 L471.02 142.11 L472.61 142.38 L474.29 142.68 L476.06 143.00 L477.92 143.35 L479.87 143.72 L481.94 144.12 L484.11 144.55 L486.41 145.01 L488.83 145.50 L490.06 145.75 L491.32 146.01 L492.62 146.28 L493.94 146.56 L495.29 146.84 L496.66 147.13 L498.06 147.43 L499.48 147.73 L500.92 148.04 L502.38 148.36 L503.86 148.68 L505.36 149.01 L506.87 149.35 L508.40 149.69 L509.95 150.03 L511.51 150.39 L513.08 150.74 L514.65 151.10 L516.24 151.47 L517.84 151.84 L519.44 152.22 L521.05 152.60 L522.66 152.98 L524.28 153.37 L525.90 153.77 L527.51 154.16 L529.13 154.56 L530.74 154.97 L532.35 155.37 L533.96 155.78 L535.56 156.20 L537.15 156.61 L538.73 157.03 L540.31 157.45 L541.87 157.87 L543.42 158.30 L544.96 158.72 L546.48 159.15 L547.99 159.58 L549.48 160.01 L550.95 160.45 L552.40 160.88 L553.83 161.31 L555.24 161.75 L556.63 162.18 L557.99 162.62 L559.32 163.06 L560.63 163.49 L561.91 163.93 L563.16 164.36 L564.37 164.80 L566.44 165.56 L568.41 166.33 L570.28 167.09 L572.07 167.85 L573.79 168.60 L575.42 169.36 L576.98 170.12 L578.47 170.88 L579.90 171.63 L581.27 172.39 L582.59 173.15 L583.85 173.90 L585.07 174.66 L586.25 175.42 L587.40 176.18 L588.51 176.94 L589.59 177.71 L590.65 178.47 L591.70 179.24 L592.73 180.01 L593.75 180.79 L594.77 181.56 L595.78 182.34 L596.81 183.13 L597.84 183.91 L598.88 184.70 L599.95 185.50 L601.03 186.30 L602.15 187.10 L603.33 187.94 L604.55 188.78 L605.80 189.62 L607.07 190.47 L608.37 191.32 L609.69 192.16 L611.03 193.01 L612.40 193.85 L613.77 194.69 L615.16 195.52 L616.56 196.35 L617.98 197.17 L619.39 197.99 L620.82 198.79 L622.24 199.59 L623.66 200.37 L625.09 201.14 L626.50 201.90 L627.91 202.64 L629.32 203.37 L630.70 204.08 L632.08 204.78 L633.44 205.45 L634.78 206.10 L636.10 206.74 L637.40 207.35 L638.67 207.94 L639.92 208.50 L641.13 209.04 L642.32 209.56 L643.49 210.06 L644.64 210.54 L645.78 211.02 L646.91 211.49 L648.03 211.95 L649.16 212.42 L650.28 212.90 L651.41 213.38 L652.56 213.88 L653.72 214.39 L654.90 214.93 L656.10 215.49 L657.33 216.08 L658.59 216.70 L659.89 217.35 L661.22 218.05 L662.60 218.79 L664.03 219.58 L665.51 220.43 L667.05 221.32 L668.65 222.28 L670.31 223.30 L672.04 224.39 L673.85 225.55 L675.73 226.79 L677.69 228.10 L678.53 228.67 L679.39 229.26 L680.27 229.86 L681.16 230.48 L682.06 231.11 L682.97 231.75 L683.90 232.41 L684.84 233.09 L685.79 233.77 L686.76 234.47 L687.74 235.19 L688.73 235.91 L689.73 236.65 L690.74 237.41 L691.76 238.18 L692.80 238.96 L693.84 239.75 L694.90 240.56 L695.96 241.38 L697.04 242.21 L698.12 243.06 L699.21 243.92 L700.31 244.79 L701.42 245.68 L702.54 246.58 L703.67 247.49 L704.80 248.41 L705.94 249.35 L707.09 250.29 L708.25 251.25 L709.41 252.22 L710.57 253.21 L711.75 254.21 L712.93 255.21 L714.11 256.23 L715.30 257.27 L716.50 258.31 L717.70 259.36 L718.90 260.43 L720.11 261.51 L721.32 262.60 L722.53 263.70 L723.75 264.81 L724.97 265.94 L726.20 267.07 L727.42 268.22 L728.65 269.37 L729.88 270.54 L731.11 271.72 L732.35 272.91 L733.58 274.11 L734.82 275.32 L736.05 276.54 L737.29 277.77 L738.52 279.02 L739.76 280.27 L740.99 281.53 L742.22 282.80 L743.46 284.09 L744.69 285.38 L745.92 286.68 L747.14 287.99 L748.37 289.32 L749.59 290.65 L750.81 291.99 L752.02 293.34 L753.24 294.70 L754.18 295.77 L755.12 296.84 L756.05 297.92 L756.99 299.00 L757.92 300.09 L758.85 301.18 L759.78 302.28 L760.71 303.38 L761.63 304.49 L762.56 305.61 L763.48 306.73 L764.40 307.85 L765.31 308.98 L766.23 310.12 L767.14 311.26 L768.05 312.40 L768.96 313.55 L769.87 314.70 L770.78 315.86 L771.68 317.02 L772.58 318.19 L773.48 319.36 L774.38 320.53 L775.28 321.71 L776.17 322.90 L777.07 324.08 L777.96 325.27 L778.85 326.47 L779.74 327.67 L780.63 328.87 L781.52 330.08 L782.40 331.29 L783.28 332.50 L784.17 333.72 L785.05 334.94 L785.93 336.16 L786.81 337.39 L787.68 338.62 L788.56 339.85 L789.43 341.09 L790.31 342.33 L791.18 343.57 L792.05 344.82 L792.92 346.07 L793.79 347.32 L794.66 348.57 L795.52 349.83 L796.39 351.09 L797.25 352.35 L798.12 353.61 L798.98 354.88 L799.84 356.15 L800.70 357.42 L801.56 358.69 L802.42 359.97 L803.28 361.25 L804.14 362.53 L804.99 363.81 L805.85 365.09 L806.70 366.38 L807.56 367.66 L808.41 368.95 L809.27 370.24 L810.12 371.53 L810.97 372.83 L811.82 374.12 L812.67 375.42 L813.52 376.71 L814.37 378.01 L815.22 379.31 L816.07 380.61 L816.92 381.91 L817.77 383.22 L818.62 384.52 L819.47 385.82 L820.31 387.13 L821.16 388.43 L822.01 389.74 L822.86 391.05 L823.70 392.35 L824.55 393.66 L825.40 394.97 L826.24 396.28 L827.09 397.58 L827.93 398.89 L828.78 400.20" fill="none" stroke="#0000ff" stroke-width="1" shape-rendering="crispEdges"/><path d="M223 194h3l2 2v3l-2 2h-3l-2-2v-3z" fill="#0000ff"/><path d="M261 166h3l2 2v3l-2 2h-3l-2-2v-3z" fill="#0000ff"/><path d="M298 161h3l2 2v3l-2 2h-3l-2-2v-3z" fill="#0000ff"/><path d="M355 144h3l2 2v3l-2 2h-3l-2-2v-3z" fill="#0000ff"/><path d="M374 138h3l2 2v3l-2 2h-3l-2-2v-3z" fill="#0000ff"/><path d="M412 136h3l2 2v3l-2 2h-3l-2-2v-3z" fill="#0000ff"/><path d="M450 136h3l2 2v3l-2 2h-3l-2-2v-3z" fill="#0000ff"/><path d="M487 142h3l2 2v3l-2 2h-3l-2-2v-3z" fill="#0000ff"/><path d="M563 161h3l2 2v3l-2 2h-3l-2-2v-3z" fill="#0000ff"/><path d="M601 184h3l2 2v3l-2 2h-3l-2-2v-3z" fill="#0000ff"/><path d="M638 205h3l2 2v3l-2 2h-3l-2-2v-3z" fill="#0000ff"/><path d="M676 225h3l2 2v3l-2 2h-3l-2-2v-3z" fill="#0000ff"/><path d="M752 291h3l2 2v3l-2 2h-3l-2-2v-3z" fill="#0000ff"/><path d="M827 397h3l2 2v3l-2 2h-3l-2-2v-3z" fill="#0000ff"/></g><g><path d="M148.88 237.40 L150.27 236.76 L151.67 236.12 L153.07 235.48 L154.47 234.84 L155.87 234.19 L157.27 233.55 L158.67 232.91 L160.07 232.27 L161.47 231.63 L162.87 230.99 L164.27 230.34 L165.67 229.70 L167.07 229.06 L168.47 228.41 L169.87 227.77 L171.26 227.13 L172.66 226.48 L174.06 225.84 L175.46 225.19 L176.86 224.54 L178.26 223.90 L179.66 223.25 L181.05 222.60 L182.45 221.95 L183.85 221.30 L185.25 220.65 L186.65 220.00 L187.95 219.39 L189.25 218.78 L190.55 218.17 L191.85 217.56 L193.15 216.93 L194.46 216.31 L195.76 215.67 L197.06 215.03 L198.36 214.37 L199.66 213.71 L200.96 213.03 L202.26 212.34 L203.57 211.64 L204.87 210.92 L206.17 210.18 L207.47 209.43 L208.77 208.66 L210.08 207.87 L211.38 207.05 L212.68 206.22 L213.98 205.36 L215.29 204.47 L216.59 203.56 L217.90 202.63 L219.20 201.66 L220.50 200.67 L221.81 199.64 L223.11 198.59 L224.42 197.50 L225.50 196.57 L226.58 195.63 L227.67 194.66 L228.75 193.67 L229.83 192.66 L230.92 191.64 L232.00 190.60 L233.08 189.55 L234.17 188.49 L235.25 187.41 L236.33 186.33 L237.41 185.23 L238.50 184.13 L239.58 183.02 L240.66 181.91 L241.74 180.80 L242.82 179.68 L243.91 178.56 L244.99 177.44 L246.07 176.33 L247.15 175.21 L248.23 174.11 L249.30 173.00 L250.38 171.91 L251.46 170.82 L252.54 169.74 L253.61 168.68 L254.69 167.62 L255.76 166.58 L256.84 165.56 L257.91 164.55 L258.98 163.56 L260.05 162.58 L261.12 161.63 L262.19 160.70 L263.53 159.57 L264.86 158.47 L266.19 157.41 L267.53 156.38 L268.86 155.38 L270.19 154.42 L271.52 153.49 L272.85 152.59 L274.18 151.71 L275.51 150.87 L276.85 150.06 L278.18 149.28 L279.52 148.52 L280.86 147.79 L282.20 147.08 L283.54 146.41 L284.89 145.75 L286.24 145.12 L287.59 144.52 L288.95 143.93 L290.31 143.37 L291.67 142.83 L293.04 142.31 L294.42 141.81 L295.80 141.33 L297.18 140.87 L298.57 140.43 L299.96 140.00 L301.47 139.56 L302.99 139.14 L304.51 138.73 L306.03 138.33 L307.56 137.94 L309.08 137.57 L310.61 137.19 L312.13 136.82 L313.65 136.45 L315.16 136.08 L316.67 135.71 L318.18 135.33 L319.67 134.94 L321.15 134.54 L322.63 134.13 L324.09 133.70 L325.53 133.26 L326.97 132.80 L328.38 132.31 L329.78 131.80 L331.16 131.26 L332.52 130.70 L333.86 130.10 L335.18 129.47 L336.47 128.80 L337.74 128.10 L338.89 127.41 L340.03 126.69 L341.15 125.94 L342.25 125.17 L343.36 124.37 L344.45 123.56 L345.55 122.73 L346.65 121.89 L347.76 121.04 L348.89 120.18 L350.02 119.32 L351.18 118.46 L352.36 117.61 L353.57 116.76 L354.81 115.93 L356.08 115.11 L357.40 114.30 L358.75 113.52 L360.16 112.76 L361.61 112.02 L363.12 111.32 L364.68 110.65 L366.31 110.01 L368.00 109.42 L369.76 108.86 L371.60 108.36 L373.51 107.90 L375.51 107.50 L376.66 107.30 L377.84 107.11 L379.05 106.95 L380.28 106.79 L381.53 106.66 L382.81 106.54 L384.11 106.43 L385.43 106.34 L386.77 106.27 L388.13 106.20 L389.51 106.16 L390.91 106.12 L392.33 106.10 L393.77 106.09 L395.22 106.09 L396.69 106.10 L398.17 106.13 L399.67 106.16 L401.19 106.21 L402.71 106.26 L404.25 106.33 L405.80 106.40 L407.36 106.48 L408.93 106.57 L410.51 106.67 L412.10 106.78 L413.70 106.89 L415.30 107.01 L416.92 107.13 L418.53 107.26 L420.16 107.40 L421.78 107.54 L423.42 107.69 L425.05 107.84 L426.69 108.00 L428.33 108.15 L429.97 108.31 L431.61 108.48 L433.25 108.64 L434.89 108.81 L436.52 108.98 L438.16 109.15 L439.79 109.32 L441.41 109.49 L443.04 109.66 L444.65 109.83 L446.27 110.00 L447.87 110.17 L449.47 110.34 L451.06 110.50 L452.63 110.66 L454.21 110.82 L455.77 110.98 L457.32 111.13 L458.87 111.28 L460.41 111.44 L461.95 111.59 L463.47 111.73 L464.99 111.88 L466.51 112.03 L468.02 112.18 L469.52 112.32 L471.02 112.47 L472.52 112.62 L474.01 112.77 L475.50 112.91 L476.99 113.06 L478.47 113.21 L479.95 113.37 L481.43 113.52 L482.90 113.68 L484.38 113.83 L485.85 113.99 L487.33 114.16 L488.80 114.32 L490.27 114.49 L491.75 114.66 L493.22 114.84 L494.70 115.01 L496.18 115.20 L497.66 115.38 L499.14 115.57 L500.62 115.77 L502.11 115.97 L503.60 116.17 L505.09 116.38 L506.59 116.60 L508.09 116.82 L509.60 117.05 L511.11 117.28 L512.63 117.52 L514.15 117.77 L515.68 118.02 L517.22 118.28 L518.76 118.55 L520.32 118.82 L521.87 119.10 L523.44 119.39 L525.02 119.69 L526.60 120.00 L528.13 120.30 L529.67 120.61 L531.22 120.93 L532.77 121.26 L534.33 121.59 L535.89 121.93 L537.46 122.27 L539.03 122.63 L540.61 122.98 L542.19 123.35 L543.77 123.72 L545.35 124.09 L546.93 124.47 L548.51 124.86 L550.09 125.25 L551.67 125.64 L553.25 126.04 L554.82 126.45 L556.39 126.85 L557.96 127.27 L559.53 127.68 L561.08 128.10 L562.64 128.52 L564.18 128.94 L565.72 129.37 L567.25 129.79 L568.77 130.22 L570.28 130.66 L571.79 131.09 L573.28 131.52 L574.76 131.96 L576.23 132.40 L577.69 132.84 L579.13 133.27 L580.56 133.71 L581.98 134.15 L583.38 134.59 L584.76 135.03 L586.13 135.47 L587.48 135.90 L588.82 136.34 L590.13 136.77 L591.43 137.21 L592.71 137.64 L593.97 138.07 L595.20 138.50 L596.42 138.92 L597.61 139.34 L598.78 139.76 L599.93 140.18 L601.05 140.59 L602.15 141.00 L604.12 141.75 L606.00 142.49 L607.81 143.22 L609.55 143.93 L611.21 144.64 L612.81 145.34 L614.34 146.03 L615.82 146.72 L617.24 147.40 L618.62 148.08 L619.95 148.75 L621.24 149.42 L622.49 150.09 L623.71 150.75 L624.91 151.42 L626.08 152.09 L627.23 152.75 L628.37 153.43 L629.50 154.10 L630.62 154.78 L631.75 155.47 L632.87 156.16 L634.00 156.86 L635.14 157.57 L636.30 158.28 L637.48 159.01 L638.69 159.75 L639.92 160.50 L641.14 161.24 L642.39 161.98 L643.66 162.74 L644.96 163.51 L646.27 164.28 L647.61 165.06 L648.96 165.85 L650.33 166.64 L651.71 167.43 L653.09 168.23 L654.48 169.02 L655.88 169.82 L657.27 170.62 L658.66 171.41 L660.05 172.21 L661.44 173.00 L662.81 173.78 L664.17 174.56 L665.52 175.33 L666.85 176.09 L668.17 176.84 L669.46 177.58 L670.73 178.31 L671.97 179.03 L673.18 179.74 L674.36 180.43 L675.51 181.10 L676.62 181.76 L677.69 182.40 L679.65 183.58 L681.46 184.70 L683.14 185.76 L684.69 186.76 L686.13 187.71 L687.47 188.62 L688.72 189.48 L689.88 190.30 L690.97 191.09 L692.00 191.85 L692.98 192.59 L693.91 193.31 L694.82 194.01 L695.70 194.71 L696.58 195.40" fill="none" stroke="#00ff00" stroke-width="1" shape-rendering="crispEdges"/><rect x="145" y="234" width="7" height="7" fill="#00ff00"/><rect x="183" y="216" width="7" height="7" fill="#00ff00"/><rect x="221" y="194" width="7" height="7" fill="#00ff00"/><rect x="259" y="157" width="7" height="7" fill="#00ff00"/><rect x="296" y="136" width="7" height="7" fill="#00ff00"/><rect x="334" y="125" width="7" height="7" fill="#00ff00"/><rect x="372" y="104" width="7" height="7" fill="#00ff00"/><rect x="448" y="107" width="7" height="7" fill="#00ff00"/><rect x="523" y="116" width="7" height="7" fill="#00ff00"/><rect x="599" y="138" width="7" height="7" fill="#00ff00"/><rect x="636" y="157" width="7" height="7" fill="#00ff00"/><rect x="674" y="179" width="7" height="7" fill="#00ff00"/><rect x="693" y="192" width="7" height="7" fill="#00ff00"/></g><g><path d="M262.19 168.80 L263.87 168.34 L265.55 167.89 L267.23 167.43 L268.91 166.97 L270.58 166.52 L272.25 166.07 L273.92 165.61 L275.59 165.16 L277.25 164.71 L278.91 164.26 L280.57 163.82 L282.22 163.38 L283.86 162.94 L285.50 162.50 L287.13 162.06 L288.76 161.63 L290.37 161.20 L291.98 160.78 L293.58 160.36 L295.18 159.94 L296.76 159.53 L298.33 159.12 L299.90 158.72 L301.45 158.32 L302.99 157.93 L304.52 157.54 L306.04 157.16 L307.55 156.78 L309.04 156.41 L310.52 156.05 L311.99 155.69 L313.44 155.34 L314.88 154.99 L316.30 154.66 L317.71 154.33 L319.10 154.00 L320.48 153.69 L321.84 153.38 L323.18 153.08 L324.50 152.79 L325.80 152.51 L327.09 152.23 L328.35 151.97 L329.60 151.71 L330.83 151.47 L332.03 151.23 L333.22 151.00 L334.38 150.79 L335.52 150.58 L336.64 150.39 L337.74 150.20 L339.90 149.85 L341.97 149.55 L343.96 149.29 L345.86 149.06 L347.69 148.87 L349.44 148.71 L351.12 148.58 L352.75 148.48 L354.31 148.39 L355.82 148.33 L357.29 148.29 L358.71 148.26 L360.09 148.24 L361.44 148.24 L362.76 148.23 L364.06 148.24 L365.34 148.24 L366.61 148.25 L367.86 148.25 L369.12 148.24 L370.37 148.22 L371.64 148.19 L372.91 148.15 L374.20 148.08 L375.51 148.00 L376.85 147.89 L378.21 147.76 L379.59 147.61 L381.00 147.44 L382.42 147.25 L383.87 147.04 L385.33 146.81 L386.81 146.57 L388.31 146.30 L389.82 146.03 L391.35 145.73 L392.88 145.43 L394.43 145.11 L395.98 144.78 L397.54 144.44 L399.11 144.08 L400.68 143.72 L402.26 143.35 L403.84 142.97 L405.42 142.59 L407.00 142.20 L408.57 141.81 L410.15 141.41 L411.72 141.00 L413.28 140.60 L414.84 140.19 L416.39 139.79 L417.94 139.39 L419.48 138.99 L421.01 138.60 L422.54 138.22 L424.06 137.84 L425.58 137.49 L427.09 137.14 L428.60 136.81 L430.11 136.51 L431.62 136.22 L433.12 135.95 L434.62 135.71 L436.11 135.50 L437.61 135.32 L439.10 135.16 L440.60 135.04 L442.09 134.96 L443.58 134.91 L445.08 134.90 L446.57 134.94 L448.06 135.01 L449.56 135.13 L451.06 135.30 L452.50 135.51 L453.94 135.76 L455.38 136.05 L456.83 136.37 L458.27 136.74 L459.72 137.13 L461.17 137.55 L462.62 138.00 L464.07 138.47 L465.53 138.97 L466.98 139.48 L468.43 140.01 L469.89 140.55 L471.35 141.10 L472.80 141.66 L474.26 142.22 L475.71 142.78 L477.17 143.35 L478.63 143.91 L480.09 144.46 L481.54 145.01 L483.00 145.54 L484.46 146.06 L485.92 146.56 L487.37 147.04 L488.83 147.50 L490.34 147.95 L491.85 148.38 L493.37 148.78 L494.88 149.16 L496.39 149.52 L497.90 149.86 L499.41 150.19 L500.92 150.50 L502.44 150.80 L503.95 151.09 L505.46 151.37 L506.97 151.64 L508.48 151.91 L509.99 152.17 L511.49 152.43 L513.00 152.70 L514.51 152.96 L516.02 153.23 L517.53 153.51 L519.04 153.79 L520.56 154.09 L522.07 154.39 L523.58 154.71 L525.09 155.05 L526.60 155.40 L528.05 155.76 L529.51 156.13 L530.96 156.52 L532.42 156.92 L533.87 157.33 L535.33 157.76 L536.78 158.20 L538.24 158.64 L539.69 159.10 L541.15 159.56 L542.60 160.03 L544.06 160.51 L545.51 160.98 L546.97 161.46 L548.42 161.94 L549.87 162.43 L551.33 162.91 L552.78 163.39 L554.23 163.86 L555.68 164.33 L557.13 164.80 L558.58 165.26 L560.03 165.71 L561.48 166.15 L562.93 166.58 L564.37 167.00 L565.82 167.41 L567.26 167.81 L568.71 168.20 L570.15 168.58 L571.59 168.97 L573.04 169.35 L574.48 169.74 L575.93 170.14 L577.37 170.54 L578.81 170.95 L580.26 171.38 L581.71 171.82 L583.15 172.28 L584.60 172.77 L586.05 173.27 L587.50 173.81 L588.96 174.37 L590.41 174.97 L591.87 175.60 L593.33 176.27 L594.79 176.97 L596.26 177.72 L597.72 178.52 L599.19 179.36 L600.67 180.25 L602.15 181.20 L603.39 182.04 L604.63 182.91 L605.87 183.81 L607.12 184.75 L608.37 185.71 L609.62 186.70 L610.86 187.70 L612.11 188.73 L613.36 189.77 L614.61 190.83 L615.85 191.89 L617.10 192.96 L618.34 194.04 L619.58 195.11 L620.81 196.19 L622.05 197.26 L623.28 198.32 L624.50 199.37 L625.72 200.41 L626.94 201.43 L628.15 202.43 L629.36 203.40 L630.56 204.35 L631.76 205.28 L632.94 206.17 L634.13 207.03 L635.30 207.85 L636.47 208.63 L637.63 209.37 L638.78 210.06 L639.92 210.70 L641.27 211.40 L642.61 212.03 L643.94 212.60 L645.26 213.12 L646.59 213.58 L647.91 214.01 L649.23 214.40 L650.55 214.76 L651.88 215.10 L653.22 215.41 L654.57 215.72 L655.94 216.03 L657.31 216.34 L658.71 216.65 L660.13 216.98 L661.56 217.33 L663.03 217.71 L664.52 218.12 L666.04 218.58 L667.59 219.08 L669.17 219.63 L670.79 220.24 L672.45 220.91 L674.15 221.66 L675.90 222.49 L677.69 223.40 L678.44 223.80 L679.20 224.22 L679.97 224.65 L680.75 225.10 L681.54 225.56 L682.34 226.04 L683.15 226.54 L683.97 227.05 L684.80 227.58 L685.64 228.12 L686.49 228.68 L687.35 229.25 L688.22 229.84 L689.11 230.45 L690.01 231.07 L690.92 231.71 L691.84 232.37 L692.78 233.04 L693.73 233.72 L694.69 234.43 L695.67 235.14 L696.66 235.88 L697.67 236.63 L698.69 237.40 L699.73 238.18 L700.78 238.98 L701.85 239.80 L702.93 240.64 L704.03 241.49 L705.15 242.35 L706.28 243.24 L707.43 244.14 L708.60 245.05 L709.79 245.99 L710.99 246.94 L712.21 247.90 L713.46 248.89 L714.72 249.89 L716.00 250.90 L717.30 251.94 L718.61 252.99 L719.95 254.06 L721.31 255.15 L722.69 256.25 L724.09 257.37 L725.52 258.50 L726.96 259.66 L728.43 260.83 L729.91 262.02 L731.43 263.23 L732.96 264.45 L734.51 265.69 L736.09 266.95 L737.70 268.22 L739.32 269.52 L740.98 270.83 L742.65 272.16 L744.35 273.50 L746.08 274.87 L747.83 276.25 L749.60 277.65 L751.41 279.07 L753.24 280.50 L754.16 281.22 L755.09 281.95 L756.03 282.69 L756.97 283.42 L757.92 284.16 L758.88 284.91 L759.84 285.66 L760.81 286.42 L761.78 287.17 L762.77 287.94 L763.75 288.70 L764.75 289.47 L765.75 290.25 L766.75 291.03 L767.76 291.81 L768.78 292.60 L769.80 293.39 L770.83 294.18 L771.87 294.98 L772.91 295.78 L773.95 296.59 L775.00 297.40 L776.06 298.21 L777.12 299.03 L778.19 299.85 L779.26 300.68 L780.34 301.50 L781.42 302.34 L782.51 303.17 L783.61 304.01 L784.70 304.85 L785.81 305.69 L786.92 306.54 L788.03 307.39 L789.15 308.25 L790.27 309.11 L791.40 309.97 L792.53 310.83 L793.67 311.70 L794.81 312.57 L795.96 313.45 L797.11 314.32 L798.26 315.20 L799.42 316.09 L800.58 316.97 L801.75 317.86 L802.92 318.75 L804.10 319.64 L805.28 320.54 L806.46 321.44 L807.65 322.34 L808.85 323.25 L810.04 324.16 L811.24 325.07 L812.45 325.98 L813.65 326.89 L814.86 327.81 L816.08 328.73 L817.30 329.65 L818.52 330.58 L819.75 331.51 L820.97 332.44 L822.21 333.37 L823.44 334.30 L824.68 335.24 L825.92 336.18 L827.17 337.12 L828.42 338.06 L829.67 339.00 L830.92 339.95 L832.18 340.90 L833.44 341.85 L834.70 342.80 L835.97 343.76 L837.24 344.71 L838.51 345.67 L839.78 346.63 L841.06 347.59 L842.34 348.56 L843.62 349.52 L844.90 350.49 L846.19 351.46 L847.48 352.43 L848.77 353.40 L850.06 354.37 L851.36 355.35 L852.65 356.32 L853.95 357.30 L855.25 358.28 L856.56 359.26 L857.86 360.24 L859.17 361.22 L860.48 362.20 L861.79 363.19 L863.10 364.17 L864.41 365.16 L865.73 366.15 L867.05 367.14 L868.36 368.13 L869.68 369.12 L871.01 370.11 L872.33 371.10 L873.65 372.10 L874.98 373.09 L876.30 374.08 L877.63 375.08 L878.96 376.08 L880.29 377.07 L881.62 378.07 L882.95 379.07 L884.28 380.07 L885.61 381.07 L886.95 382.07 L888.28 383.07 L889.62 384.07 L890.95 385.07 L892.29 386.07 L893.62 387.08 L894.96 388.08 L896.30 389.08 L897.63 390.08 L898.97 391.09 L900.31 392.09 L901.65 393.09 L902.99 394.10 L904.33 395.10" fill="none" stroke="#00ff00" stroke-width="1" shape-rendering="crispEdges"/><path d="M261 165h3l2 2v3l-2 2h-3l-2-2v-3z" fill="#00ff00"/><path d="M336 147h3l2 2v3l-2 2h-3l-2-2v-3z" fill="#00ff00"/><path d="M374 144h3l2 2v3l-2 2h-3l-2-2v-3z" fill="#00ff00"/><path d="M412 137h3l2 2v3l-2 2h-3l-2-2v-3z" fill="#00ff00"/><path d="M450 132h3l2 2v3l-2 2h-3l-2-2v-3z" fill="#00ff00"/><path d="M487 144h3l2 2v3l-2 2h-3l-2-2v-3z" fill="#00ff00"/><path d="M525 152h3l2 2v3l-2 2h-3l-2-2v-3z" fill="#00ff00"/><path d="M563 164h3l2 2v3l-2 2h-3l-2-2v-3z" fill="#00ff00"/><path d="M601 178h3l2 2v3l-2 2h-3l-2-2v-3z" fill="#00ff00"/><path d="M638 207h3l2 2v3l-2 2h-3l-2-2v-3z" fill="#00ff00"/><path d="M676 220h3l2 2v3l-2 2h-3l-2-2v-3z" fill="#00ff00"/><path d="M752 277h3l2 2v3l-2 2h-3l-2-2v-3z" fill="#00ff00"/><path d="M903 392h3l2 2v3l-2 2h-3l-2-2v-3z" fill="#00ff00"/></g><g><path d="M224.42 194.40 L225.66 193.48 L226.90 192.55 L228.14 191.63 L229.37 190.71 L230.61 189.78 L231.85 188.86 L233.09 187.94 L234.33 187.02 L235.57 186.10 L236.80 185.18 L238.04 184.26 L239.28 183.34 L240.52 182.43 L241.76 181.51 L243.00 180.60 L244.24 179.69 L245.47 178.77 L246.71 177.87 L247.95 176.96 L249.19 176.05 L250.43 175.15 L251.67 174.24 L252.90 173.34 L254.14 172.45 L255.38 171.55 L256.62 170.65 L257.86 169.76 L259.10 168.87 L260.33 167.99 L261.57 167.10 L262.81 166.22 L264.05 165.34 L265.29 164.47 L266.53 163.60 L267.77 162.73 L269.00 161.86 L270.24 161.00 L271.48 160.14 L272.72 159.28 L273.96 158.43 L275.20 157.58 L276.43 156.73 L277.67 155.89 L278.91 155.05 L280.15 154.22 L281.39 153.39 L282.63 152.57 L283.87 151.74 L285.10 150.93 L286.34 150.12 L287.58 149.31 L288.82 148.50 L290.06 147.71 L291.30 146.91 L292.53 146.12 L293.77 145.34 L295.01 144.56 L296.25 143.79 L297.49 143.02 L298.73 142.26 L299.96 141.50 L301.34 140.67 L302.71 139.84 L304.09 139.02 L305.46 138.21 L306.83 137.40 L308.21 136.60 L309.58 135.81 L310.95 135.03 L312.33 134.25 L313.70 133.48 L315.07 132.72 L316.45 131.97 L317.82 131.23 L319.19 130.49 L320.57 129.76 L321.94 129.04 L323.32 128.32 L324.69 127.62 L326.06 126.92 L327.44 126.24 L328.81 125.56 L330.18 124.88 L331.56 124.22 L332.93 123.57 L334.30 122.92 L335.68 122.29 L337.05 121.66 L338.42 121.04 L339.80 120.43 L341.17 119.83 L342.54 119.24 L343.92 118.66 L345.29 118.09 L346.67 117.53 L348.04 116.98 L349.41 116.44 L350.79 115.90 L352.16 115.38 L353.53 114.87 L354.91 114.37 L356.28 113.87 L357.65 113.39 L359.03 112.92 L360.40 112.46 L361.77 112.01 L363.15 111.57 L364.52 111.14 L365.90 110.72 L367.27 110.31 L368.64 109.92 L370.02 109.53 L371.39 109.16 L372.76 108.79 L374.14 108.44 L375.51 108.10 L377.02 107.74 L378.53 107.39 L380.04 107.06 L381.55 106.74 L383.06 106.43 L384.58 106.14 L386.09 105.86 L387.60 105.59 L389.11 105.34 L390.62 105.10 L392.13 104.87 L393.64 104.66 L395.15 104.46 L396.66 104.27 L398.17 104.10 L399.68 103.94 L401.20 103.79 L402.71 103.66 L404.22 103.53 L405.73 103.43 L407.24 103.33 L408.75 103.25 L410.26 103.18 L411.77 103.12 L413.28 103.07 L414.79 103.04 L416.30 103.02 L417.82 103.01 L419.33 103.02 L420.84 103.04 L422.35 103.07 L423.86 103.11 L425.37 103.16 L426.88 103.23 L428.39 103.31 L429.90 103.40 L431.41 103.50 L432.92 103.61 L434.44 103.74 L435.95 103.88 L437.46 104.03 L438.97 104.19 L440.48 104.36 L441.99 104.55 L443.50 104.74 L445.01 104.95 L446.52 105.17 L448.03 105.40 L449.54 105.65 L451.06 105.90 L452.51 106.15 L453.96 106.42 L455.41 106.69 L456.87 106.98 L458.32 107.27 L459.77 107.57 L461.22 107.88 L462.68 108.20 L464.13 108.53 L465.58 108.87 L467.04 109.21 L468.49 109.56 L469.94 109.91 L471.39 110.28 L472.85 110.64 L474.30 111.02 L475.75 111.40 L477.21 111.78 L478.66 112.17 L480.11 112.57 L481.56 112.97 L483.02 113.37 L484.47 113.78 L485.92 114.19 L487.37 114.60 L488.83 115.02 L490.28 115.43 L491.73 115.86 L493.19 116.28 L494.64 116.70 L496.09 117.13 L497.54 117.55 L499.00 117.98 L500.45 118.41 L501.90 118.83 L503.36 119.26 L504.81 119.69 L506.26 120.11 L507.71 120.54 L509.17 120.96 L510.62 121.38 L512.07 121.80 L513.52 122.21 L514.98 122.63 L516.43 123.04 L517.88 123.45 L519.34 123.85 L520.79 124.25 L522.24 124.64 L523.69 125.03 L525.15 125.42 L526.60 125.80 L528.05 126.18 L529.51 126.54 L530.96 126.91 L532.41 127.27 L533.86 127.63 L535.32 127.98 L536.77 128.33 L538.22 128.68 L539.68 129.02 L541.13 129.37 L542.58 129.71 L544.03 130.05 L545.49 130.39 L546.94 130.73 L548.39 131.07 L549.84 131.41 L551.30 131.75 L552.75 132.09 L554.20 132.44 L555.66 132.78 L557.11 133.13 L558.56 133.48 L560.01 133.84 L561.47 134.19 L562.92 134.56 L564.37 134.92 L565.83 135.29 L567.28 135.67 L568.73 136.05 L570.18 136.44 L571.64 136.83 L573.09 137.24 L574.54 137.64 L575.99 138.06 L577.45 138.48 L578.90 138.92 L580.35 139.36 L581.81 139.81 L583.26 140.27 L584.71 140.74 L586.16 141.22 L587.62 141.71 L589.07 142.21 L590.52 142.73 L591.98 143.25 L593.43 143.79 L594.88 144.34 L596.33 144.90 L597.79 145.48 L599.24 146.07 L600.69 146.68 L602.15 147.30 L603.43 147.86 L604.71 148.43 L605.99 149.01 L607.27 149.61 L608.55 150.21 L609.83 150.83 L611.11 151.45 L612.39 152.09 L613.67 152.73 L614.95 153.39 L616.23 154.06 L617.51 154.73 L618.79 155.42 L620.07 156.11 L621.35 156.81 L622.63 157.53 L623.91 158.25 L625.19 158.97 L626.47 159.71 L627.75 160.46 L629.03 161.21 L630.31 161.97 L631.59 162.74 L632.88 163.51 L634.16 164.29 L635.44 165.08 L636.72 165.88 L638.00 166.68 L639.28 167.49 L640.56 168.30 L641.84 169.12 L643.12 169.94 L644.40 170.77 L645.68 171.61 L646.96 172.45 L648.24 173.30 L649.52 174.15 L650.80 175.00 L652.08 175.86 L653.36 176.72 L654.64 177.59 L655.92 178.46 L657.20 179.33 L658.48 180.21 L659.76 181.09 L661.04 181.97 L662.32 182.85 L663.61 183.74 L664.89 184.63 L666.17 185.52 L667.45 186.41 L668.73 187.31 L670.01 188.21 L671.29 189.10 L672.57 190.00 L673.85 190.90 L675.13 191.80 L676.41 192.70 L677.69 193.60" fill="none" stroke="#ff0000" stroke-width="1" shape-rendering="crispEdges"/><path d="M223 191h3l2 2v3l-2 2h-3l-2-2v-3z" fill="#ff0000"/><path d="M298 138h3l2 2v3l-2 2h-3l-2-2v-3z" fill="#ff0000"/><path d="M374 105h3l2 2v3l-2 2h-3l-2-2v-3z" fill="#ff0000"/><path d="M450 102h3l2 2v3l-2 2h-3l-2-2v-3z" fill="#ff0000"/><path d="M525 122h3l2 2v3l-2 2h-3l-2-2v-3z" fill="#ff0000"/><path d="M601 144h3l2 2v3l-2 2h-3l-2-2v-3z" fill="#ff0000"/><path d="M676 190h3l2 2v3l-2 2h-3l-2-2v-3z" fill="#ff0000"/></g><g><path d="M111.10 252.00 L112.44 251.46 L113.78 250.91 L115.11 250.36 L116.45 249.82 L117.79 249.27 L119.14 248.72 L120.49 248.17 L121.84 247.62 L123.19 247.07 L124.55 246.52 L125.92 245.96 L127.29 245.40 L128.66 244.84 L130.05 244.28 L131.44 243.71 L132.83 243.14 L134.24 242.57 L135.66 241.99 L137.08 241.41 L138.52 240.82 L139.96 240.23 L141.42 239.64 L142.88 239.04 L144.36 238.44 L145.85 237.83 L147.36 237.22 L148.88 236.60 L150.41 235.98 L151.95 235.35 L153.50 234.71 L155.06 234.08 L156.62 233.44 L158.18 232.80 L159.74 232.15 L161.30 231.51 L162.85 230.87 L164.39 230.23 L165.92 229.59 L167.43 228.96 L168.93 228.33 L170.40 227.70 L171.86 227.08 L173.29 226.46 L174.69 225.85 L176.07 225.25 L177.41 224.66 L178.71 224.07 L179.98 223.50 L181.21 222.93 L182.39 222.38 L183.53 221.84 L184.62 221.31 L185.66 220.80 L186.65 220.30 L188.67 219.23 L190.45 218.22 L192.00 217.27 L193.38 216.34 L194.60 215.44 L195.71 214.55 L196.73 213.64 L197.71 212.72 L198.66 211.75 L199.64 210.74 L200.65 209.66 L201.76 208.50 L202.47 207.76 L203.22 206.99 L204.02 206.18 L204.86 205.34 L205.74 204.47 L206.67 203.57 L207.64 202.63 L208.65 201.66 L209.71 200.66 L210.81 199.63 L211.96 198.56 L213.16 197.47 L214.40 196.34 L215.69 195.18 L217.02 193.99 L218.40 192.78 L219.84 191.53 L221.31 190.25 L222.84 188.94 L224.42 187.60 L225.46 186.72 L226.53 185.83 L227.61 184.93 L228.71 184.02 L229.83 183.10 L230.96 182.17 L232.11 181.23 L233.28 180.29 L234.46 179.34 L235.65 178.38 L236.85 177.42 L238.07 176.45 L239.29 175.49 L240.53 174.51 L241.77 173.54 L243.02 172.57 L244.28 171.59 L245.55 170.62 L246.82 169.64 L248.10 168.67 L249.38 167.70 L250.66 166.73 L251.94 165.77 L253.23 164.81 L254.52 163.86 L255.80 162.92 L257.09 161.98 L258.37 161.04 L259.65 160.12 L260.92 159.20 L262.19 158.30 L263.54 157.34 L264.89 156.40 L266.23 155.47 L267.57 154.55 L268.90 153.64 L270.22 152.74 L271.54 151.86 L272.86 150.99 L274.17 150.13 L275.48 149.28 L276.78 148.44 L278.08 147.62 L279.38 146.80 L280.68 146.00 L281.97 145.21 L283.26 144.44 L284.55 143.67 L285.83 142.92 L287.12 142.18 L288.41 141.45 L289.69 140.73 L290.97 140.02 L292.26 139.32 L293.54 138.64 L294.82 137.97 L296.11 137.31 L297.39 136.66 L298.68 136.02 L299.96 135.40 L301.40 134.72 L302.84 134.05 L304.28 133.39 L305.73 132.75 L307.17 132.12 L308.62 131.51 L310.07 130.90 L311.52 130.31 L312.97 129.73 L314.42 129.17 L315.88 128.61 L317.33 128.06 L318.79 127.53 L320.24 127.00 L321.70 126.49 L323.16 125.99 L324.61 125.49 L326.07 125.00 L327.53 124.53 L328.99 124.06 L330.45 123.60 L331.91 123.14 L333.36 122.70 L334.82 122.26 L336.28 121.83 L337.74 121.40 L339.25 120.96 L340.77 120.53 L342.28 120.11 L343.79 119.70 L345.31 119.29 L346.82 118.89 L348.33 118.50 L349.84 118.12 L351.35 117.75 L352.87 117.38 L354.38 117.03 L355.89 116.68 L357.40 116.35 L358.91 116.02 L360.42 115.71 L361.93 115.40 L363.43 115.11 L364.94 114.83 L366.45 114.56 L367.96 114.30 L369.47 114.06 L370.98 113.82 L372.49 113.60 L374.00 113.39 L375.51 113.20 L377.02 113.02 L378.53 112.85 L380.04 112.69 L381.55 112.55 L383.06 112.42 L384.57 112.29 L386.08 112.18 L387.59 112.08 L389.10 111.99 L390.61 111.90 L392.12 111.82 L393.64 111.75 L395.15 111.68 L396.66 111.63 L398.17 111.57 L399.68 111.52 L401.19 111.48 L402.70 111.44 L404.21 111.40 L405.73 111.36 L407.24 111.33 L408.75 111.30 L410.26 111.26 L411.77 111.23 L413.28 111.20 L414.79 111.17 L416.30 111.13 L417.82 111.10 L419.33 111.06 L420.84 111.03 L422.35 111.00 L423.86 110.97 L425.37 110.95 L426.88 110.93 L428.39 110.91 L429.90 110.89 L431.41 110.89 L432.93 110.88 L434.44 110.89 L435.95 110.90 L437.46 110.91 L438.97 110.94 L440.48 110.97 L441.99 111.02 L443.50 111.07 L445.01 111.13 L446.52 111.21 L448.03 111.29 L449.54 111.39 L451.06 111.50 L452.57 111.62 L454.08 111.76 L455.59 111.90 L457.10 112.06 L458.61 112.23 L460.12 112.41 L461.63 112.59 L463.14 112.78 L464.65 112.98 L466.16 113.19 L467.67 113.40 L469.19 113.62 L470.70 113.84 L472.21 114.06 L473.72 114.29 L475.23 114.51 L476.74 114.74 L478.25 114.97 L479.76 115.20 L481.27 115.42 L482.78 115.64 L484.29 115.86 L485.81 116.08 L487.32 116.29 L488.83 116.50 L490.34 116.70 L491.85 116.90 L493.36 117.09 L494.87 117.27 L496.38 117.45 L497.89 117.63 L499.40 117.81 L500.91 117.98 L502.43 118.15 L503.94 118.32 L505.45 118.48 L506.96 118.65 L508.47 118.82 L509.98 118.99 L511.49 119.15 L513.00 119.32 L514.51 119.50 L516.02 119.67 L517.53 119.85 L519.05 120.03 L520.56 120.21 L522.07 120.40 L523.58 120.59 L525.09 120.79 L526.60 121.00 L528.11 121.21 L529.62 121.43 L531.13 121.66 L532.64 121.89 L534.15 122.13 L535.67 122.38 L537.18 122.64 L538.69 122.91 L540.20 123.19 L541.71 123.47 L543.22 123.77 L544.73 124.08 L546.24 124.40 L547.75 124.73 L549.26 125.07 L550.77 125.42 L552.29 125.79 L553.80 126.16 L555.31 126.56 L556.82 126.96 L558.33 127.38 L559.84 127.81 L561.35 128.26 L562.86 128.72 L564.37 129.20 L565.77 129.66 L567.17 130.12 L568.57 130.61 L569.97 131.10 L571.37 131.60 L572.77 132.12 L574.17 132.64 L575.56 133.18 L576.96 133.72 L578.36 134.27 L579.76 134.83 L581.16 135.40 L582.56 135.97 L583.96 136.55 L585.36 137.14 L586.76 137.73 L588.16 138.32 L589.55 138.92 L590.95 139.52 L592.35 140.13 L593.75 140.74 L595.15 141.35 L596.55 141.96 L597.95 142.57 L599.35 143.18 L600.75 143.79 L602.15 144.40 L603.54 145.01 L604.94 145.62 L606.34 146.22 L607.74 146.83 L609.14 147.44 L610.54 148.05 L611.94 148.66 L613.34 149.28 L614.74 149.90 L616.13 150.52 L617.53 151.15 L618.93 151.78 L620.33 152.42 L621.73 153.07 L623.13 153.72 L624.53 154.39 L625.93 155.06 L627.33 155.74 L628.73 156.43 L630.12 157.13 L631.52 157.85 L632.92 158.57 L634.32 159.31 L635.72 160.06 L637.12 160.82 L638.52 161.60 L639.92 162.40 L641.22 163.15 L642.52 163.92 L643.83 164.70 L645.13 165.49 L646.43 166.29 L647.73 167.09 L649.04 167.91 L650.34 168.73 L651.64 169.55 L652.94 170.38 L654.25 171.21 L655.55 172.04 L656.85 172.87 L658.15 173.70 L659.46 174.53 L660.76 175.36 L662.06 176.18 L663.36 177.00 L664.67 177.81 L665.97 178.61 L667.27 179.40 L668.57 180.19 L669.88 180.96 L671.18 181.72 L672.48 182.47 L673.78 183.20 L675.09 183.92 L676.39 184.62 L677.69 185.30 L679.09 186.01 L680.49 186.70 L681.89 187.38 L683.29 188.04 L684.68 188.68 L686.08 189.31 L687.48 189.93 L688.88 190.54 L690.28 191.14 L691.68 191.73 L693.08 192.33 L694.48 192.92 L695.88 193.51 L697.28 194.10 L698.67 194.69 L700.07 195.29 L701.47 195.89 L702.87 196.51 L704.27 197.13 L705.67 197.77 L707.07 198.41 L708.47 199.08 L709.87 199.76 L711.27 200.46 L712.66 201.19 L714.06 201.93 L715.46 202.70 L716.68 203.39 L717.90 204.10 L719.12 204.83 L720.34 205.58 L721.55 206.34 L722.77 207.12 L723.99 207.92 L725.21 208.73 L726.43 209.56 L727.65 210.40 L728.87 211.26 L730.08 212.12 L731.30 213.00 L732.52 213.90 L733.74 214.80 L734.96 215.71 L736.18 216.63 L737.39 217.57 L738.61 218.51 L739.83 219.45 L741.05 220.41 L742.27 221.37 L743.49 222.34 L744.71 223.31 L745.92 224.28 L747.14 225.26 L748.36 226.25 L749.58 227.23 L750.80 228.22 L752.02 229.21 L753.24 230.20" fill="none" stroke="#000000" stroke-width="1" shape-rendering="crispEdges"/><path d="M110 248h3l2 2v3l-2 2h-3l-2-2v-3z" fill="#000000"/><path d="M147 233h3l2 2v3l-2 2h-3l-2-2v-3z" fill="#000000"/><path d="M185 217h3l2 2v3l-2 2h-3l-2-2v-3z" fill="#000000"/><path d="M200 205h3l2 2v3l-2 2h-3l-2-2v-3z" fill="#000000"/><path d="M223 184h3l2 2v3l-2 2h-3l-2-2v-3z" fill="#000000"/><path d="M261 155h3l2 2v3l-2 2h-3l-2-2v-3z" fill="#000000"/><path d="M298 132h3l2 2v3l-2 2h-3l-2-2v-3z" fill="#000000"/><path d="M336 118h3l2 2v3l-2 2h-3l-2-2v-3z" fill="#000000"/><path d="M374 110h3l2 2v3l-2 2h-3l-2-2v-3z" fill="#000000"/><path d="M412 108h3l2 2v3l-2 2h-3l-2-2v-3z" fill="#000000"/><path d="M450 108h3l2 2v3l-2 2h-3l-2-2v-3z" fill="#000000"/><path d="M487 113h3l2 2v3l-2 2h-3l-2-2v-3z" fill="#000000"/><path d="M525 118h3l2 2v3l-2 2h-3l-2-2v-3z" fill="#000000"/><path d="M563 126h3l2 2v3l-2 2h-3l-2-2v-3z" fill="#000000"/><path d="M601 141h3l2 2v3l-2 2h-3l-2-2v-3z" fill="#000000"/><path d="M638 159h3l2 2v3l-2 2h-3l-2-2v-3z" fill="#000000"/><path d="M676 182h3l2 2v3l-2 2h-3l-2-2v-3z" fill="#000000"/><path d="M714 199h3l2 2v3l-2 2h-3l-2-2v-3z" fill="#000000"/><path d="M752 227h3l2 2v3l-2 2h-3l-2-2v-3z" fill="#000000"/></g><g font-size="14"><rect x="73.5" y="304.5" width="568" height="262" fill="#fff" stroke="#000" stroke-width="1"/><line x1="81" y1="320.5" x2="114" y2="320.5" stroke="#0000ff" stroke-width="1"/><rect x="94.5" y="317.5" width="7" height="6" fill="#fff" stroke="#0000ff"/><line x1="81" y1="338.5" x2="114" y2="338.5" stroke="#00ff00" stroke-width="1"/><rect x="94.5" y="335.5" width="7" height="6" fill="#fff" stroke="#00ff00"/><line x1="81" y1="356.5" x2="114" y2="356.5" stroke="#ff0000" stroke-width="1"/><rect x="94.5" y="353.5" width="7" height="6" fill="#fff" stroke="#ff0000"/><line x1="81" y1="373.5" x2="114" y2="373.5" stroke="#000000" stroke-width="1"/><rect x="94.5" y="370.5" width="7" height="6" fill="#fff" stroke="#000000"/><path d="M98.5 386.5L103.5 391.5L98.5 396.5L93.5 391.5Z" fill="#000000"/><line x1="81" y1="425.5" x2="114" y2="425.5" stroke="#00ffff" stroke-width="1"/><rect x="94" y="422" width="8" height="7" fill="#00ffff"/><path d="M98.5 438.5L103.5 443.5L98.5 448.5L93.5 443.5Z" fill="#800000"/><rect x="94.5" y="458.5" width="7" height="6" fill="#fff" stroke="#000000"/><line x1="81" y1="479.5" x2="114" y2="479.5" stroke="#0000ff" stroke-width="1"/><path d="M96 476h3l2 2v3l-2 2h-3l-2-2v-3z" fill="#0000ff"/><line x1="81" y1="496.5" x2="114" y2="496.5" stroke="#00ff00" stroke-width="1"/><rect x="94" y="493" width="8" height="8" fill="#00ff00"/><line x1="81" y1="514.5" x2="114" y2="514.5" stroke="#00ff00" stroke-width="1"/><path d="M96 511h3l1 1v2l1 1v1l-1 1v2l-1 1h-3l-1-1v-2l-1-1v-1l1-1v-2z" fill="#00ff00"/><line x1="81" y1="532.5" x2="114" y2="532.5" stroke="#ff0000" stroke-width="1"/><path d="M96 529h3l1 1v2l1 1v1l-1 1v2l-1 1h-3l-1-1v-2l-1-1v-1l1-1v-2z" fill="#ff0000"/><line x1="81" y1="550.5" x2="114" y2="550.5" stroke="#000000" stroke-width="1"/><path d="M96 547h3l2 2v3l-2 2h-3l-2-2v-3z" fill="#000000"/></g><g font-size="14" filter="url(#crisp)"><text x="122.3" y="325.2" textLength="507.1" lengthAdjust="spacing">Parkes et al., Chem. Phys. Lett. 23 (1973) 425; Int. J. Chem. Kinet. 9 (1977) 451</text><text x="122.3" y="343.2" textLength="293.0" lengthAdjust="spacing">Hochanadel et al., J. Phys. Chem. 81 (1977) 3</text><text x="122.3" y="361.2" textLength="396.5" lengthAdjust="spacing">Anastasi et al., J. Chem. Soc. Faraday Trans. I 74 (1978) 1693</text><text x="122.3" y="378.2" textLength="280.8" lengthAdjust="spacing">Kan et al., Int. J. Chem. Kinet. 11 (1979) 921</text><text x="122.3" y="396.2" textLength="320.3" lengthAdjust="spacing">Cox and Tyndall, Chem. Phys. Lett. 65 (1979) 357;</text><text x="227" y="412.5" textLength="297.2" lengthAdjust="spacing">J. Chem. Soc. Faraday Trans. II 76 (1980) 153</text><text x="122.3" y="430.2" textLength="300.8" lengthAdjust="spacing">Adachi et al., Int. J. Chem. Kinet. 12 (1980) 949</text><text x="122.3" y="448.2" textLength="332.0" lengthAdjust="spacing">Sander and Watson, J. Phys. Chem. 85 (1981) 2960</text><text x="122.3" y="466.2" textLength="312.0" lengthAdjust="spacing">Pilling and Smith, J. Phys. Chem. 89 (1985) 4713</text><text x="122.3" y="484.2" textLength="265.7" lengthAdjust="spacing">Kurylo et al., J. Photochem. 39 (1987) 201</text><text x="122.3" y="501.2" textLength="305.9" lengthAdjust="spacing">McAdam et al., Chem. Phys. Lett. 133 (1987) 39</text><text x="122.3" y="519.2" textLength="424.6" lengthAdjust="spacing">Wallington et al., J. Photochem. Photobiol. A: Chem. 42 (1988) 173</text><text x="122.3" y="537.2" textLength="380.0" lengthAdjust="spacing">Jenkin et al., J. Chem. Soc. Faraday Trans. II 84 (1988) 913</text><text x="122.3" y="555.2" textLength="296.6" lengthAdjust="spacing">Moortgat et al., J. Phys. Chem. 93 (1989) 2362</text></g><g font-size="12"><path d="M73.5 25V567.5M69 25.5H919M919.5 26V567M69 567.5H920" fill="none" stroke="#000" stroke-width="1"/><line x1="69" y1="25.5" x2="73" y2="25.5" stroke="#000"/><line x1="69" y1="296.5" x2="73" y2="296.5" stroke="#000"/><line x1="69" y1="567.5" x2="73" y2="567.5" stroke="#000"/><line x1="73.5" y1="568" x2="73.5" y2="572" stroke="#000"/><line x1="148.5" y1="568" x2="148.5" y2="572" stroke="#000"/><line x1="224.5" y1="568" x2="224.5" y2="572" stroke="#000"/><line x1="299.5" y1="568" x2="299.5" y2="572" stroke="#000"/><line x1="375.5" y1="568" x2="375.5" y2="572" stroke="#000"/><line x1="451.5" y1="568" x2="451.5" y2="572" stroke="#000"/><line x1="526.5" y1="568" x2="526.5" y2="572" stroke="#000"/><line x1="602.5" y1="568" x2="602.5" y2="572" stroke="#000"/><line x1="677.5" y1="568" x2="677.5" y2="572" stroke="#000"/><line x1="753.5" y1="568" x2="753.5" y2="572" stroke="#000"/><line x1="828.5" y1="568" x2="828.5" y2="572" stroke="#000"/><line x1="904.5" y1="568" x2="904.5" y2="572" stroke="#000"/></g><g font-size="12" filter="url(#crisp)"><text x="73.5" y="588" text-anchor="middle">190</text><text x="148.5" y="588" text-anchor="middle">200</text><text x="224.5" y="588" text-anchor="middle">210</text><text x="299.5" y="588" text-anchor="middle">220</text><text x="375.5" y="588" text-anchor="middle">230</text><text x="451.5" y="588" text-anchor="middle">240</text><text x="526.5" y="588" text-anchor="middle">250</text><text x="602.5" y="588" text-anchor="middle">260</text><text x="677.5" y="588" text-anchor="middle">270</text><text x="753.5" y="588" text-anchor="middle">280</text><text x="828.5" y="588" text-anchor="middle">290</text><text x="904.5" y="588" text-anchor="middle">300</text><text x="62.5" y="28.6" text-anchor="end">1e-17</text><text x="62.5" y="299.6" text-anchor="end">1e-18</text><text x="62.5" y="570.6" text-anchor="end">1e-19</text></g><g filter="url(#crisp)"><text x="495.6" y="613.7" font-size="14" text-anchor="middle" letter-spacing="0.24">Wavelength [nm]</text><text x="101" y="659.8" font-size="16" letter-spacing="0.31">Absorption cross sections of the methylperoxy radical CH<tspan font-size="12" dy="5">3</tspan><tspan dy="-5">O</tspan><tspan font-size="12" dy="5">2</tspan><tspan dy="-5"> at room temperature obtained before 1990</tspan></text></g><g filter="url(#crisp)"><text transform="translate(18.5 296) rotate(-90)" font-size="14" text-anchor="middle" letter-spacing="0.16">Absorption cross section [cm<tspan font-size="10" dy="-6.5">2</tspan><tspan dy="6.5"> · molecule</tspan><tspan font-size="10" dy="-6.5">-1</tspan><tspan dy="6.5">]</tspan></text></g></svg></body></html>
